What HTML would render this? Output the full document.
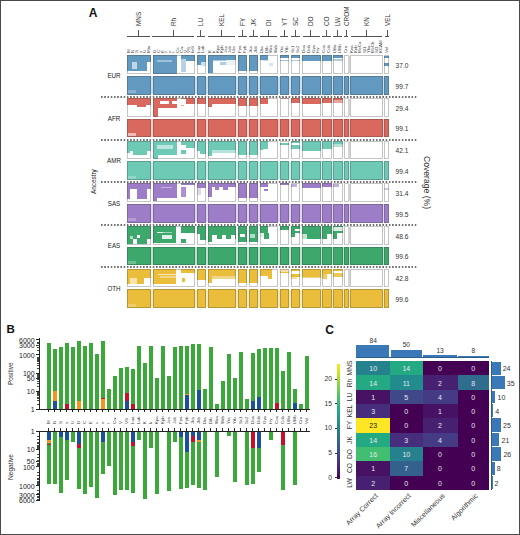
<!DOCTYPE html>
<html><head><meta charset="utf-8"><style>
*{margin:0;padding:0;box-sizing:border-box;}
html,body{width:520px;height:535px;background:#fff;overflow:hidden;}
body{position:relative;font-family:"Liberation Sans",sans-serif;}
#c{position:absolute;left:0;top:0;width:520px;height:535px;}
#c div{position:absolute;}
.t{line-height:1;white-space:nowrap;}
.bo{border:1px solid rgba(60,60,60,0.3);}
.rv{white-space:nowrap;line-height:1;transform-origin:0 0;transform:rotate(-90deg) translate(0,-50%);color:#333;}
.rr{white-space:nowrap;line-height:1;transform-origin:0 0;transform:rotate(90deg) translate(0,-50%);}
.rs{white-space:nowrap;line-height:1;font-size:4.4px;color:#3a3a3a;transform-origin:0 0;transform:rotate(-90deg) translate(0,-50%);}
.al{white-space:nowrap;line-height:1;font-size:7.5px;color:#1a1a1a;transform:translate(-50%,-50%) scaleX(0.83);}
.rvc{white-space:nowrap;line-height:1;font-size:7.4px;color:#333;transform-origin:50% 50%;transform:translate(-50%,-50%) rotate(-90deg) scaleX(0.9);}
.cv{white-space:nowrap;line-height:1;font-size:6.6px;color:#333;transform:translateY(-50%);}
.dot{height:2px;background-image:linear-gradient(to right,#727272 0,#727272 1.3px,transparent 1.3px);background-size:3.24px 2px;}
.yl{right:485.4px;white-space:nowrap;line-height:1;font-size:7px;color:#222;transform:translateY(-50%);text-align:right;}
.hv{white-space:nowrap;line-height:1;font-size:7px;transform:translate(-50%,-50%);}
.mt{white-space:nowrap;line-height:1;font-size:6.6px;color:#333;transform:translate(-50%,-50%);}
.mr{white-space:nowrap;line-height:1;font-size:7px;color:#333;transform:translateY(-50%);}
.cl{right:188px;white-space:nowrap;line-height:1;font-size:6.8px;color:#333;transform:translateY(-50%);text-align:right;}
.dl{white-space:nowrap;line-height:1;font-size:7px;color:#333;transform-origin:100% 0;transform:translate(-100%,0) rotate(-45deg);}
</style></head><body><div id="c">
<div class="t" style="left:88.7px;top:7px;font-size:12px;color:#111;font-weight:bold;">A</div>
<div style="left:126.6px;top:35.8px;width:23.7px;height:0.8px;background:#555;"></div>
<div style="left:137.9px;top:29.6px;width:0.8px;height:6.6px;background:#555;"></div>
<div class="rv" style="left:137.8px;top:25.7px;font-size:7px;transform:rotate(-90deg) translate(0,-50%) scaleX(0.91);">MNS</div>
<div style="left:152px;top:35.8px;width:42px;height:0.8px;background:#555;"></div>
<div style="left:173.1px;top:29.6px;width:0.8px;height:6.6px;background:#555;"></div>
<div class="rv" style="left:173px;top:25.7px;font-size:7px;transform:rotate(-90deg) translate(0,-50%) scaleX(0.91);">Rh</div>
<div style="left:196.5px;top:35.8px;width:8.5px;height:0.8px;background:#555;"></div>
<div style="left:200.4px;top:29.6px;width:0.8px;height:6.6px;background:#555;"></div>
<div class="rv" style="left:200.3px;top:25.7px;font-size:7px;transform:rotate(-90deg) translate(0,-50%) scaleX(0.91);">LU</div>
<div style="left:208.3px;top:35.8px;width:27.2px;height:0.8px;background:#555;"></div>
<div style="left:221.1px;top:29.6px;width:0.8px;height:6.6px;background:#555;"></div>
<div class="rv" style="left:221px;top:25.7px;font-size:7px;transform:rotate(-90deg) translate(0,-50%) scaleX(0.91);">KEL</div>
<div style="left:238px;top:35.8px;width:8.5px;height:0.8px;background:#555;"></div>
<div style="left:241.6px;top:29.6px;width:0.8px;height:6.6px;background:#555;"></div>
<div class="rv" style="left:241.5px;top:25.7px;font-size:7px;transform:rotate(-90deg) translate(0,-50%) scaleX(0.91);">FY</div>
<div style="left:249px;top:35.8px;width:8.5px;height:0.8px;background:#555;"></div>
<div style="left:252.6px;top:29.6px;width:0.8px;height:6.6px;background:#555;"></div>
<div class="rv" style="left:252.5px;top:25.7px;font-size:7px;transform:rotate(-90deg) translate(0,-50%) scaleX(0.91);">JK</div>
<div style="left:260px;top:35.8px;width:17px;height:0.8px;background:#555;"></div>
<div style="left:268.2px;top:29.6px;width:0.8px;height:6.6px;background:#555;"></div>
<div class="rv" style="left:268.1px;top:25.7px;font-size:7px;transform:rotate(-90deg) translate(0,-50%) scaleX(0.91);">DI</div>
<div style="left:280.4px;top:35.8px;width:8.1px;height:0.8px;background:#555;"></div>
<div style="left:283.8px;top:29.6px;width:0.8px;height:6.6px;background:#555;"></div>
<div class="rv" style="left:283.7px;top:25.7px;font-size:7px;transform:rotate(-90deg) translate(0,-50%) scaleX(0.91);">YT</div>
<div style="left:291.2px;top:35.8px;width:8.4px;height:0.8px;background:#555;"></div>
<div style="left:294.8px;top:29.6px;width:0.8px;height:6.6px;background:#555;"></div>
<div class="rv" style="left:294.7px;top:25.7px;font-size:7px;transform:rotate(-90deg) translate(0,-50%) scaleX(0.91);">SC</div>
<div style="left:302.6px;top:35.8px;width:17px;height:0.8px;background:#555;"></div>
<div style="left:310.4px;top:29.6px;width:0.8px;height:6.6px;background:#555;"></div>
<div class="rv" style="left:310.3px;top:25.7px;font-size:7px;transform:rotate(-90deg) translate(0,-50%) scaleX(0.91);">DO</div>
<div style="left:322.4px;top:35.8px;width:8.4px;height:0.8px;background:#555;"></div>
<div style="left:326.4px;top:29.6px;width:0.8px;height:6.6px;background:#555;"></div>
<div class="rv" style="left:326.3px;top:25.7px;font-size:7px;transform:rotate(-90deg) translate(0,-50%) scaleX(0.91);">CO</div>
<div style="left:333.4px;top:35.8px;width:8.4px;height:0.8px;background:#555;"></div>
<div style="left:337.2px;top:29.6px;width:0.8px;height:6.6px;background:#555;"></div>
<div class="rv" style="left:337.1px;top:25.7px;font-size:7px;transform:rotate(-90deg) translate(0,-50%) scaleX(0.91);">LW</div>
<div style="left:344.4px;top:35.8px;width:4px;height:0.8px;background:#555;"></div>
<div style="left:346.1px;top:29.6px;width:0.8px;height:6.6px;background:#555;"></div>
<div class="rv" style="left:346px;top:25.7px;font-size:7px;transform:rotate(-90deg) translate(0,-50%) scaleX(0.91);">CROM</div>
<div style="left:350.6px;top:35.8px;width:31.8px;height:0.8px;background:#555;"></div>
<div style="left:366.2px;top:29.6px;width:0.8px;height:6.6px;background:#555;"></div>
<div class="rv" style="left:366.1px;top:25.7px;font-size:7px;transform:rotate(-90deg) translate(0,-50%) scaleX(0.91);">KN</div>
<div style="left:384.6px;top:35.8px;width:4.4px;height:0.8px;background:#555;"></div>
<div style="left:386.6px;top:29.6px;width:0.8px;height:6.6px;background:#555;"></div>
<div class="rv" style="left:386.5px;top:25.7px;font-size:7px;transform:rotate(-90deg) translate(0,-50%) scaleX(0.91);">VEL</div>
<div class="rs" style="left:129.26px;top:53px;">M</div>
<div class="rs" style="left:133.18px;top:53px;">N</div>
<div class="rs" style="left:137.09px;top:53px;">S</div>
<div class="rs" style="left:141.01px;top:53px;">s</div>
<div class="rs" style="left:144.93px;top:53px;">U</div>
<div class="rs" style="left:148.84px;top:53px;">Mia</div>
<div class="rs" style="left:154.92px;top:53px;">D</div>
<div class="rs" style="left:158.75px;top:53px;">C</div>
<div class="rs" style="left:162.59px;top:53px;">E</div>
<div class="rs" style="left:166.43px;top:53px;">c</div>
<div class="rs" style="left:170.26px;top:53px;">e</div>
<div class="rs" style="left:174.1px;top:53px;">f</div>
<div class="rs" style="left:177.94px;top:53px;">Ce</div>
<div class="rs" style="left:181.77px;top:53px;">Cw</div>
<div class="rs" style="left:185.61px;top:53px;">V</div>
<div class="rs" style="left:189.45px;top:53px;">VS</div>
<div class="rs" style="left:193.28px;top:53px;">hrS</div>
<div class="rs" style="left:199.15px;top:53px;">Lua</div>
<div class="rs" style="left:203.45px;top:53px;">Lub</div>
<div class="rs" style="left:210.02px;top:53px;">K</div>
<div class="rs" style="left:214.06px;top:53px;">k</div>
<div class="rs" style="left:218.11px;top:53px;">Kpa</div>
<div class="rs" style="left:222.15px;top:53px;">Kpb</div>
<div class="rs" style="left:226.19px;top:53px;">Jsa</div>
<div class="rs" style="left:230.24px;top:53px;">Jsb</div>
<div class="rs" style="left:234.28px;top:53px;">Ula</div>
<div class="rs" style="left:240.32px;top:53px;">Fya</div>
<div class="rs" style="left:244.98px;top:53px;">Fyb</div>
<div class="rs" style="left:251.32px;top:53px;">Jka</div>
<div class="rs" style="left:255.98px;top:53px;">Jkb</div>
<div class="rs" style="left:261.94px;top:53px;">Dia</div>
<div class="rs" style="left:266.61px;top:53px;">Dib</div>
<div class="rs" style="left:271.29px;top:53px;">Wra</div>
<div class="rs" style="left:275.96px;top:53px;">Wrb</div>
<div class="rs" style="left:282.32px;top:53px;">Yta</div>
<div class="rs" style="left:286.98px;top:53px;">Ytb</div>
<div class="rs" style="left:293.35px;top:53px;">Sc1</div>
<div class="rs" style="left:298.05px;top:53px;">Sc2</div>
<div class="rs" style="left:304.32px;top:53px;">Doa</div>
<div class="rs" style="left:308.98px;top:53px;">Dob</div>
<div class="rs" style="left:313.62px;top:53px;">Gya</div>
<div class="rs" style="left:318.28px;top:53px;">Hy</div>
<div class="rs" style="left:324.38px;top:53px;">Coa</div>
<div class="rs" style="left:329.12px;top:53px;">Cob</div>
<div class="rs" style="left:335.4px;top:53px;">LWa</div>
<div class="rs" style="left:340.2px;top:53px;">LWb</div>
<div class="rs" style="left:346.4px;top:53px;">Cra</div>
<div class="rs" style="left:352.42px;top:53px;">Kna</div>
<div class="rs" style="left:356.46px;top:53px;">Knb</div>
<div class="rs" style="left:360.49px;top:53px;">McCa</div>
<div class="rs" style="left:364.53px;top:53px;">Sl1</div>
<div class="rs" style="left:368.57px;top:53px;">Yka</div>
<div class="rs" style="left:372.61px;top:53px;">McCb</div>
<div class="rs" style="left:376.64px;top:53px;">Sl3</div>
<div class="rs" style="left:380.68px;top:53px;">KCAM</div>
<div class="rs" style="left:386.8px;top:53px;">Vel</div>
<div style="left:127.3px;top:55.3px;width:23.5px;height:18.7px;background:#fff;"></div>
<div style="left:153px;top:55.3px;width:42.2px;height:18.7px;background:#fff;"></div>
<div style="left:197px;top:55.3px;width:8.6px;height:18.7px;background:#fff;"></div>
<div style="left:208px;top:55.3px;width:28.3px;height:18.7px;background:#fff;"></div>
<div style="left:238px;top:55.3px;width:9.3px;height:18.7px;background:#fff;"></div>
<div style="left:249px;top:55.3px;width:9.3px;height:18.7px;background:#fff;"></div>
<div style="left:259.6px;top:55.3px;width:18.7px;height:18.7px;background:#fff;"></div>
<div style="left:280px;top:55.3px;width:9.3px;height:18.7px;background:#fff;"></div>
<div style="left:291px;top:55.3px;width:9.4px;height:18.7px;background:#fff;"></div>
<div style="left:302px;top:55.3px;width:18.6px;height:18.7px;background:#fff;"></div>
<div style="left:322px;top:55.3px;width:9.5px;height:18.7px;background:#fff;"></div>
<div style="left:333px;top:55.3px;width:9.6px;height:18.7px;background:#fff;"></div>
<div style="left:344.2px;top:55.3px;width:4.4px;height:18.7px;background:#fff;"></div>
<div style="left:350.4px;top:55.3px;width:32.3px;height:18.7px;background:#fff;"></div>
<div style="left:384.4px;top:55.3px;width:4.8px;height:18.7px;background:#fff;"></div>
<div style="left:127.3px;top:55.3px;width:19.3px;height:15.7px;background:#6299c0;"></div>
<div style="left:146.6px;top:55.3px;width:4.2px;height:6.5px;background:#6299c0;"></div>
<div style="left:132px;top:61.8px;width:5px;height:7.5px;background:#fff;opacity:0.6;"></div>
<div style="left:153px;top:55.3px;width:23.5px;height:18.7px;background:#6299c0;"></div>
<div style="left:157px;top:60.3px;width:15px;height:1.3px;background:#fff;opacity:0.4;"></div>
<div style="left:181px;top:55.3px;width:5px;height:4px;background:#6299c0;"></div>
<div style="left:181px;top:59.3px;width:5px;height:13px;background:#6299c0;opacity:0.45;"></div>
<div style="left:186px;top:55.3px;width:9.2px;height:5.5px;background:#6299c0;"></div>
<div style="left:197px;top:55.3px;width:8.6px;height:6.8px;background:#6299c0;"></div>
<div style="left:197px;top:62.1px;width:3.5px;height:2.5px;background:#6299c0;"></div>
<div style="left:200.5px;top:62.1px;width:5.1px;height:3.7px;background:#6299c0;opacity:0.3;"></div>
<div style="left:208px;top:55.3px;width:28.3px;height:4.5px;background:#6299c0;"></div>
<div style="left:208px;top:59.8px;width:4.6px;height:13.4px;background:#6299c0;"></div>
<div style="left:212.6px;top:59.8px;width:13.4px;height:1.7px;background:#6299c0;opacity:0.55;"></div>
<div style="left:220px;top:61.5px;width:6px;height:3.3px;background:#6299c0;opacity:0.5;"></div>
<div style="left:226px;top:59.8px;width:10.3px;height:5.5px;background:#6299c0;opacity:0.12;"></div>
<div style="left:238px;top:55.3px;width:9.3px;height:15.7px;background:#6299c0;"></div>
<div style="left:249px;top:55.3px;width:9.3px;height:15.7px;background:#6299c0;"></div>
<div style="left:259.6px;top:55.3px;width:8.9px;height:4.4px;background:#6299c0;"></div>
<div style="left:268.5px;top:62.8px;width:4px;height:3.2px;background:#6299c0;opacity:0.25;"></div>
<div style="left:262px;top:59.7px;width:6.5px;height:1.6px;background:#6299c0;opacity:0.3;"></div>
<div style="left:280px;top:55.3px;width:9.3px;height:3px;background:#6299c0;"></div>
<div style="left:280px;top:59.8px;width:9.3px;height:1px;background:#6299c0;opacity:0.6;"></div>
<div style="left:291px;top:55.3px;width:9.4px;height:3px;background:#6299c0;"></div>
<div style="left:291px;top:59.8px;width:9.4px;height:1.5px;background:#6299c0;opacity:0.5;"></div>
<div style="left:302px;top:55.3px;width:18.6px;height:5.5px;background:#6299c0;"></div>
<div style="left:322px;top:55.3px;width:9.5px;height:6px;background:#6299c0;"></div>
<div style="left:333px;top:55.3px;width:9.6px;height:3px;background:#6299c0;"></div>
<div style="left:333px;top:58.8px;width:9.6px;height:2.5px;background:#6299c0;opacity:0.5;"></div>
<div style="left:384.4px;top:56.1px;width:4.8px;height:2px;background:#6299c0;"></div>
<div style="left:384.4px;top:63.3px;width:4.8px;height:2.5px;background:#6299c0;"></div>
<div class="bo" style="left:127.3px;top:55.3px;width:23.5px;height:18.7px;"></div>
<div class="bo" style="left:153px;top:55.3px;width:42.2px;height:18.7px;"></div>
<div class="bo" style="left:197px;top:55.3px;width:8.6px;height:18.7px;"></div>
<div class="bo" style="left:208px;top:55.3px;width:28.3px;height:18.7px;"></div>
<div class="bo" style="left:238px;top:55.3px;width:9.3px;height:18.7px;"></div>
<div class="bo" style="left:249px;top:55.3px;width:9.3px;height:18.7px;"></div>
<div class="bo" style="left:259.6px;top:55.3px;width:18.7px;height:18.7px;"></div>
<div class="bo" style="left:280px;top:55.3px;width:9.3px;height:18.7px;"></div>
<div class="bo" style="left:291px;top:55.3px;width:9.4px;height:18.7px;"></div>
<div class="bo" style="left:302px;top:55.3px;width:18.6px;height:18.7px;"></div>
<div class="bo" style="left:322px;top:55.3px;width:9.5px;height:18.7px;"></div>
<div class="bo" style="left:333px;top:55.3px;width:9.6px;height:18.7px;"></div>
<div class="bo" style="left:344.2px;top:55.3px;width:4.4px;height:18.7px;"></div>
<div class="bo" style="left:350.4px;top:55.3px;width:32.3px;height:18.7px;"></div>
<div class="bo" style="left:384.4px;top:55.3px;width:4.8px;height:18.7px;"></div>
<div style="left:348.4px;top:55.9px;width:1.9px;height:17.5px;background:#d4d4d4;"></div>
<div style="left:127.3px;top:76.5px;width:261.9px;height:17.6px;background:#6299c0;opacity:0.33;"></div>
<div style="left:127.3px;top:76px;width:23.5px;height:18.6px;background:#6299c0;"></div>
<div class="bo" style="left:127.3px;top:76px;width:23.5px;height:18.6px;"></div>
<div style="left:153px;top:76px;width:42.2px;height:18.6px;background:#6299c0;"></div>
<div class="bo" style="left:153px;top:76px;width:42.2px;height:18.6px;"></div>
<div style="left:197px;top:76px;width:8.6px;height:18.6px;background:#6299c0;"></div>
<div class="bo" style="left:197px;top:76px;width:8.6px;height:18.6px;"></div>
<div style="left:208px;top:76px;width:28.3px;height:18.6px;background:#6299c0;"></div>
<div class="bo" style="left:208px;top:76px;width:28.3px;height:18.6px;"></div>
<div style="left:238px;top:76px;width:9.3px;height:18.6px;background:#6299c0;"></div>
<div class="bo" style="left:238px;top:76px;width:9.3px;height:18.6px;"></div>
<div style="left:249px;top:76px;width:9.3px;height:18.6px;background:#6299c0;"></div>
<div class="bo" style="left:249px;top:76px;width:9.3px;height:18.6px;"></div>
<div style="left:259.6px;top:76px;width:18.7px;height:18.6px;background:#6299c0;"></div>
<div class="bo" style="left:259.6px;top:76px;width:18.7px;height:18.6px;"></div>
<div style="left:280px;top:76px;width:9.3px;height:18.6px;background:#6299c0;"></div>
<div class="bo" style="left:280px;top:76px;width:9.3px;height:18.6px;"></div>
<div style="left:291px;top:76px;width:9.4px;height:18.6px;background:#6299c0;"></div>
<div class="bo" style="left:291px;top:76px;width:9.4px;height:18.6px;"></div>
<div style="left:302px;top:76px;width:18.6px;height:18.6px;background:#6299c0;"></div>
<div class="bo" style="left:302px;top:76px;width:18.6px;height:18.6px;"></div>
<div style="left:322px;top:76px;width:9.5px;height:18.6px;background:#6299c0;"></div>
<div class="bo" style="left:322px;top:76px;width:9.5px;height:18.6px;"></div>
<div style="left:333px;top:76px;width:9.6px;height:18.6px;background:#6299c0;"></div>
<div class="bo" style="left:333px;top:76px;width:9.6px;height:18.6px;"></div>
<div style="left:344.2px;top:76px;width:4.4px;height:18.6px;background:#6299c0;"></div>
<div class="bo" style="left:344.2px;top:76px;width:4.4px;height:18.6px;"></div>
<div style="left:350.4px;top:76px;width:32.3px;height:18.6px;background:#6299c0;"></div>
<div class="bo" style="left:350.4px;top:76px;width:32.3px;height:18.6px;"></div>
<div style="left:384.4px;top:76px;width:4.8px;height:18.6px;background:#6299c0;"></div>
<div class="bo" style="left:384.4px;top:76px;width:4.8px;height:18.6px;"></div>
<div style="left:128.3px;top:90.4px;width:7.5px;height:3px;background:#fff;opacity:0.25;"></div>
<div class="al" style="left:114.4px;top:75.85px;">EUR</div>
<div class="cv" style="left:395.6px;top:66.15px;">37.0</div>
<div class="cv" style="left:395.6px;top:86.8px;">99.7</div>
<div class="dot" style="left:101.3px;top:96px;width:317px;"></div>
<div style="left:127.3px;top:97.95px;width:23.5px;height:18.7px;background:#fff;"></div>
<div style="left:153px;top:97.95px;width:42.2px;height:18.7px;background:#fff;"></div>
<div style="left:197px;top:97.95px;width:8.6px;height:18.7px;background:#fff;"></div>
<div style="left:208px;top:97.95px;width:28.3px;height:18.7px;background:#fff;"></div>
<div style="left:238px;top:97.95px;width:9.3px;height:18.7px;background:#fff;"></div>
<div style="left:249px;top:97.95px;width:9.3px;height:18.7px;background:#fff;"></div>
<div style="left:259.6px;top:97.95px;width:18.7px;height:18.7px;background:#fff;"></div>
<div style="left:280px;top:97.95px;width:9.3px;height:18.7px;background:#fff;"></div>
<div style="left:291px;top:97.95px;width:9.4px;height:18.7px;background:#fff;"></div>
<div style="left:302px;top:97.95px;width:18.6px;height:18.7px;background:#fff;"></div>
<div style="left:322px;top:97.95px;width:9.5px;height:18.7px;background:#fff;"></div>
<div style="left:333px;top:97.95px;width:9.6px;height:18.7px;background:#fff;"></div>
<div style="left:344.2px;top:97.95px;width:4.4px;height:18.7px;background:#fff;"></div>
<div style="left:350.4px;top:97.95px;width:32.3px;height:18.7px;background:#fff;"></div>
<div style="left:384.4px;top:97.95px;width:4.8px;height:18.7px;background:#fff;"></div>
<div style="left:127.3px;top:97.95px;width:23.5px;height:6.6px;background:#d9695f;"></div>
<div style="left:136.5px;top:104.55px;width:9.5px;height:2px;background:#d9695f;"></div>
<div style="left:153px;top:97.95px;width:4.5px;height:18.7px;background:#d9695f;"></div>
<div style="left:153px;top:97.95px;width:23.5px;height:3.3px;background:#d9695f;"></div>
<div style="left:157.5px;top:101.25px;width:2.9px;height:2.7px;background:#d9695f;"></div>
<div style="left:168.8px;top:101.25px;width:3.1px;height:2.7px;background:#d9695f;"></div>
<div style="left:157.5px;top:103.75px;width:19px;height:4px;background:#d9695f;"></div>
<div style="left:181px;top:97.95px;width:5px;height:1.5px;background:#d9695f;"></div>
<div style="left:186px;top:97.95px;width:9.2px;height:6px;background:#d9695f;"></div>
<div style="left:181px;top:104.75px;width:3px;height:1.5px;background:#d9695f;opacity:0.6;"></div>
<div style="left:197px;top:97.95px;width:8.6px;height:6px;background:#d9695f;"></div>
<div style="left:208px;top:97.95px;width:28.3px;height:6.5px;background:#d9695f;"></div>
<div style="left:208px;top:104.45px;width:4px;height:2.5px;background:#d9695f;"></div>
<div style="left:238px;top:97.95px;width:9.3px;height:8px;background:#d9695f;"></div>
<div style="left:249px;top:97.95px;width:9.3px;height:8px;background:#d9695f;"></div>
<div style="left:259.6px;top:97.95px;width:8.4px;height:6px;background:#d9695f;"></div>
<div style="left:280px;top:97.95px;width:9.3px;height:1.2px;background:#d9695f;opacity:0.6;"></div>
<div style="left:291px;top:97.95px;width:9.4px;height:5px;background:#d9695f;"></div>
<div style="left:302px;top:97.95px;width:18.6px;height:6px;background:#d9695f;"></div>
<div style="left:322px;top:97.95px;width:9.5px;height:5px;background:#d9695f;"></div>
<div style="left:333px;top:97.95px;width:9.6px;height:2.5px;background:#d9695f;"></div>
<div style="left:333px;top:100.45px;width:9.6px;height:2.5px;background:#d9695f;opacity:0.6;"></div>
<div class="bo" style="left:127.3px;top:97.95px;width:23.5px;height:18.7px;"></div>
<div class="bo" style="left:153px;top:97.95px;width:42.2px;height:18.7px;"></div>
<div class="bo" style="left:197px;top:97.95px;width:8.6px;height:18.7px;"></div>
<div class="bo" style="left:208px;top:97.95px;width:28.3px;height:18.7px;"></div>
<div class="bo" style="left:238px;top:97.95px;width:9.3px;height:18.7px;"></div>
<div class="bo" style="left:249px;top:97.95px;width:9.3px;height:18.7px;"></div>
<div class="bo" style="left:259.6px;top:97.95px;width:18.7px;height:18.7px;"></div>
<div class="bo" style="left:280px;top:97.95px;width:9.3px;height:18.7px;"></div>
<div class="bo" style="left:291px;top:97.95px;width:9.4px;height:18.7px;"></div>
<div class="bo" style="left:302px;top:97.95px;width:18.6px;height:18.7px;"></div>
<div class="bo" style="left:322px;top:97.95px;width:9.5px;height:18.7px;"></div>
<div class="bo" style="left:333px;top:97.95px;width:9.6px;height:18.7px;"></div>
<div class="bo" style="left:344.2px;top:97.95px;width:4.4px;height:18.7px;"></div>
<div class="bo" style="left:350.4px;top:97.95px;width:32.3px;height:18.7px;"></div>
<div class="bo" style="left:384.4px;top:97.95px;width:4.8px;height:18.7px;"></div>
<div style="left:348.4px;top:98.55px;width:1.9px;height:17.5px;background:#d4d4d4;"></div>
<div style="left:127.3px;top:119.15px;width:261.9px;height:17.6px;background:#d9695f;opacity:0.33;"></div>
<div style="left:127.3px;top:118.65px;width:23.5px;height:18.6px;background:#d9695f;"></div>
<div class="bo" style="left:127.3px;top:118.65px;width:23.5px;height:18.6px;"></div>
<div style="left:153px;top:118.65px;width:42.2px;height:18.6px;background:#d9695f;"></div>
<div class="bo" style="left:153px;top:118.65px;width:42.2px;height:18.6px;"></div>
<div style="left:197px;top:118.65px;width:8.6px;height:18.6px;background:#d9695f;"></div>
<div class="bo" style="left:197px;top:118.65px;width:8.6px;height:18.6px;"></div>
<div style="left:208px;top:118.65px;width:28.3px;height:18.6px;background:#d9695f;"></div>
<div class="bo" style="left:208px;top:118.65px;width:28.3px;height:18.6px;"></div>
<div style="left:238px;top:118.65px;width:9.3px;height:18.6px;background:#d9695f;"></div>
<div class="bo" style="left:238px;top:118.65px;width:9.3px;height:18.6px;"></div>
<div style="left:249px;top:118.65px;width:9.3px;height:18.6px;background:#d9695f;"></div>
<div class="bo" style="left:249px;top:118.65px;width:9.3px;height:18.6px;"></div>
<div style="left:259.6px;top:118.65px;width:18.7px;height:18.6px;background:#d9695f;"></div>
<div class="bo" style="left:259.6px;top:118.65px;width:18.7px;height:18.6px;"></div>
<div style="left:280px;top:118.65px;width:9.3px;height:18.6px;background:#d9695f;"></div>
<div class="bo" style="left:280px;top:118.65px;width:9.3px;height:18.6px;"></div>
<div style="left:291px;top:118.65px;width:9.4px;height:18.6px;background:#d9695f;"></div>
<div class="bo" style="left:291px;top:118.65px;width:9.4px;height:18.6px;"></div>
<div style="left:302px;top:118.65px;width:18.6px;height:18.6px;background:#d9695f;"></div>
<div class="bo" style="left:302px;top:118.65px;width:18.6px;height:18.6px;"></div>
<div style="left:322px;top:118.65px;width:9.5px;height:18.6px;background:#d9695f;"></div>
<div class="bo" style="left:322px;top:118.65px;width:9.5px;height:18.6px;"></div>
<div style="left:333px;top:118.65px;width:9.6px;height:18.6px;background:#d9695f;"></div>
<div class="bo" style="left:333px;top:118.65px;width:9.6px;height:18.6px;"></div>
<div style="left:344.2px;top:118.65px;width:4.4px;height:18.6px;background:#d9695f;"></div>
<div class="bo" style="left:344.2px;top:118.65px;width:4.4px;height:18.6px;"></div>
<div style="left:350.4px;top:118.65px;width:32.3px;height:18.6px;background:#d9695f;"></div>
<div class="bo" style="left:350.4px;top:118.65px;width:32.3px;height:18.6px;"></div>
<div style="left:384.4px;top:118.65px;width:4.8px;height:18.6px;background:#d9695f;"></div>
<div class="bo" style="left:384.4px;top:118.65px;width:4.8px;height:18.6px;"></div>
<div style="left:128.3px;top:133.05px;width:7.5px;height:3px;background:#fff;opacity:0.55;"></div>
<div class="al" style="left:114.4px;top:118.5px;">AFR</div>
<div class="cv" style="left:395.6px;top:108.8px;">29.4</div>
<div class="cv" style="left:395.6px;top:129.45px;">99.1</div>
<div class="dot" style="left:101.3px;top:139px;width:317px;"></div>
<div style="left:127.3px;top:140.6px;width:23.5px;height:18.7px;background:#fff;"></div>
<div style="left:153px;top:140.6px;width:42.2px;height:18.7px;background:#fff;"></div>
<div style="left:197px;top:140.6px;width:8.6px;height:18.7px;background:#fff;"></div>
<div style="left:208px;top:140.6px;width:28.3px;height:18.7px;background:#fff;"></div>
<div style="left:238px;top:140.6px;width:9.3px;height:18.7px;background:#fff;"></div>
<div style="left:249px;top:140.6px;width:9.3px;height:18.7px;background:#fff;"></div>
<div style="left:259.6px;top:140.6px;width:18.7px;height:18.7px;background:#fff;"></div>
<div style="left:280px;top:140.6px;width:9.3px;height:18.7px;background:#fff;"></div>
<div style="left:291px;top:140.6px;width:9.4px;height:18.7px;background:#fff;"></div>
<div style="left:302px;top:140.6px;width:18.6px;height:18.7px;background:#fff;"></div>
<div style="left:322px;top:140.6px;width:9.5px;height:18.7px;background:#fff;"></div>
<div style="left:333px;top:140.6px;width:9.6px;height:18.7px;background:#fff;"></div>
<div style="left:344.2px;top:140.6px;width:4.4px;height:18.7px;background:#fff;"></div>
<div style="left:350.4px;top:140.6px;width:32.3px;height:18.7px;background:#fff;"></div>
<div style="left:384.4px;top:140.6px;width:4.8px;height:18.7px;background:#fff;"></div>
<div style="left:127.3px;top:140.6px;width:23.5px;height:10px;background:#6ec9b5;"></div>
<div style="left:133px;top:150.6px;width:14px;height:4px;background:#6ec9b5;"></div>
<div style="left:127.3px;top:150.6px;width:2.7px;height:2px;background:#6ec9b5;"></div>
<div style="left:153px;top:140.6px;width:23.5px;height:14.5px;background:#6ec9b5;"></div>
<div style="left:157.3px;top:145.1px;width:15.9px;height:4px;background:#fff;opacity:0.55;"></div>
<div style="left:153px;top:155.1px;width:4.5px;height:3.5px;background:#6ec9b5;"></div>
<div style="left:181px;top:140.6px;width:5px;height:4px;background:#6ec9b5;"></div>
<div style="left:186px;top:140.6px;width:9.2px;height:7.5px;background:#6ec9b5;"></div>
<div style="left:181px;top:150px;width:5px;height:4px;background:#6ec9b5;"></div>
<div style="left:197px;top:140.6px;width:8.6px;height:10.5px;background:#6ec9b5;"></div>
<div style="left:200px;top:151.1px;width:5.6px;height:2.5px;background:#6ec9b5;"></div>
<div style="left:208px;top:140.6px;width:28.3px;height:9px;background:#6ec9b5;"></div>
<div style="left:208px;top:149.6px;width:4px;height:6px;background:#6ec9b5;"></div>
<div style="left:212px;top:149.6px;width:24.3px;height:3px;background:#6ec9b5;opacity:0.5;"></div>
<div style="left:238px;top:140.6px;width:9.3px;height:14px;background:#6ec9b5;"></div>
<div style="left:249px;top:140.6px;width:9.3px;height:14px;background:#6ec9b5;"></div>
<div style="left:259.6px;top:140.6px;width:8.9px;height:8.5px;background:#6ec9b5;"></div>
<div style="left:259.6px;top:149.1px;width:3.4px;height:1.3px;background:#6ec9b5;"></div>
<div style="left:280px;top:142.6px;width:9.3px;height:2px;background:#6ec9b5;"></div>
<div style="left:291px;top:141.1px;width:9.4px;height:2.3px;background:#6ec9b5;"></div>
<div style="left:291px;top:144.5px;width:9.4px;height:4.1px;background:#6ec9b5;"></div>
<div style="left:302px;top:140.6px;width:18.6px;height:10px;background:#6ec9b5;"></div>
<div style="left:322px;top:140.6px;width:9.5px;height:8px;background:#6ec9b5;"></div>
<div style="left:333px;top:140.6px;width:9.6px;height:3px;background:#6ec9b5;"></div>
<div style="left:333px;top:143.6px;width:9.6px;height:3px;background:#6ec9b5;opacity:0.5;"></div>
<div class="bo" style="left:127.3px;top:140.6px;width:23.5px;height:18.7px;"></div>
<div class="bo" style="left:153px;top:140.6px;width:42.2px;height:18.7px;"></div>
<div class="bo" style="left:197px;top:140.6px;width:8.6px;height:18.7px;"></div>
<div class="bo" style="left:208px;top:140.6px;width:28.3px;height:18.7px;"></div>
<div class="bo" style="left:238px;top:140.6px;width:9.3px;height:18.7px;"></div>
<div class="bo" style="left:249px;top:140.6px;width:9.3px;height:18.7px;"></div>
<div class="bo" style="left:259.6px;top:140.6px;width:18.7px;height:18.7px;"></div>
<div class="bo" style="left:280px;top:140.6px;width:9.3px;height:18.7px;"></div>
<div class="bo" style="left:291px;top:140.6px;width:9.4px;height:18.7px;"></div>
<div class="bo" style="left:302px;top:140.6px;width:18.6px;height:18.7px;"></div>
<div class="bo" style="left:322px;top:140.6px;width:9.5px;height:18.7px;"></div>
<div class="bo" style="left:333px;top:140.6px;width:9.6px;height:18.7px;"></div>
<div class="bo" style="left:344.2px;top:140.6px;width:4.4px;height:18.7px;"></div>
<div class="bo" style="left:350.4px;top:140.6px;width:32.3px;height:18.7px;"></div>
<div class="bo" style="left:384.4px;top:140.6px;width:4.8px;height:18.7px;"></div>
<div style="left:348.4px;top:141.2px;width:1.9px;height:17.5px;background:#d4d4d4;"></div>
<div style="left:127.3px;top:161.8px;width:261.9px;height:17.6px;background:#6ec9b5;opacity:0.33;"></div>
<div style="left:127.3px;top:161.3px;width:23.5px;height:18.6px;background:#6ec9b5;"></div>
<div class="bo" style="left:127.3px;top:161.3px;width:23.5px;height:18.6px;"></div>
<div style="left:153px;top:161.3px;width:42.2px;height:18.6px;background:#6ec9b5;"></div>
<div class="bo" style="left:153px;top:161.3px;width:42.2px;height:18.6px;"></div>
<div style="left:197px;top:161.3px;width:8.6px;height:18.6px;background:#6ec9b5;"></div>
<div class="bo" style="left:197px;top:161.3px;width:8.6px;height:18.6px;"></div>
<div style="left:208px;top:161.3px;width:28.3px;height:18.6px;background:#6ec9b5;"></div>
<div class="bo" style="left:208px;top:161.3px;width:28.3px;height:18.6px;"></div>
<div style="left:238px;top:161.3px;width:9.3px;height:18.6px;background:#6ec9b5;"></div>
<div class="bo" style="left:238px;top:161.3px;width:9.3px;height:18.6px;"></div>
<div style="left:249px;top:161.3px;width:9.3px;height:18.6px;background:#6ec9b5;"></div>
<div class="bo" style="left:249px;top:161.3px;width:9.3px;height:18.6px;"></div>
<div style="left:259.6px;top:161.3px;width:18.7px;height:18.6px;background:#6ec9b5;"></div>
<div class="bo" style="left:259.6px;top:161.3px;width:18.7px;height:18.6px;"></div>
<div style="left:280px;top:161.3px;width:9.3px;height:18.6px;background:#6ec9b5;"></div>
<div class="bo" style="left:280px;top:161.3px;width:9.3px;height:18.6px;"></div>
<div style="left:291px;top:161.3px;width:9.4px;height:18.6px;background:#6ec9b5;"></div>
<div class="bo" style="left:291px;top:161.3px;width:9.4px;height:18.6px;"></div>
<div style="left:302px;top:161.3px;width:18.6px;height:18.6px;background:#6ec9b5;"></div>
<div class="bo" style="left:302px;top:161.3px;width:18.6px;height:18.6px;"></div>
<div style="left:322px;top:161.3px;width:9.5px;height:18.6px;background:#6ec9b5;"></div>
<div class="bo" style="left:322px;top:161.3px;width:9.5px;height:18.6px;"></div>
<div style="left:333px;top:161.3px;width:9.6px;height:18.6px;background:#6ec9b5;"></div>
<div class="bo" style="left:333px;top:161.3px;width:9.6px;height:18.6px;"></div>
<div style="left:344.2px;top:161.3px;width:4.4px;height:18.6px;background:#6ec9b5;"></div>
<div class="bo" style="left:344.2px;top:161.3px;width:4.4px;height:18.6px;"></div>
<div style="left:350.4px;top:161.3px;width:32.3px;height:18.6px;background:#6ec9b5;"></div>
<div class="bo" style="left:350.4px;top:161.3px;width:32.3px;height:18.6px;"></div>
<div style="left:384.4px;top:161.3px;width:4.8px;height:18.6px;background:#6ec9b5;"></div>
<div class="bo" style="left:384.4px;top:161.3px;width:4.8px;height:18.6px;"></div>
<div style="left:128.3px;top:175.7px;width:7.5px;height:3px;background:#fff;opacity:0.25;"></div>
<div class="al" style="left:114.4px;top:161.15px;">AMR</div>
<div class="cv" style="left:395.6px;top:151.45px;">42.1</div>
<div class="cv" style="left:395.6px;top:172.1px;">99.4</div>
<div class="dot" style="left:101.3px;top:181px;width:317px;"></div>
<div style="left:127.3px;top:183.25px;width:23.5px;height:18.7px;background:#fff;"></div>
<div style="left:153px;top:183.25px;width:42.2px;height:18.7px;background:#fff;"></div>
<div style="left:197px;top:183.25px;width:8.6px;height:18.7px;background:#fff;"></div>
<div style="left:208px;top:183.25px;width:28.3px;height:18.7px;background:#fff;"></div>
<div style="left:238px;top:183.25px;width:9.3px;height:18.7px;background:#fff;"></div>
<div style="left:249px;top:183.25px;width:9.3px;height:18.7px;background:#fff;"></div>
<div style="left:259.6px;top:183.25px;width:18.7px;height:18.7px;background:#fff;"></div>
<div style="left:280px;top:183.25px;width:9.3px;height:18.7px;background:#fff;"></div>
<div style="left:291px;top:183.25px;width:9.4px;height:18.7px;background:#fff;"></div>
<div style="left:302px;top:183.25px;width:18.6px;height:18.7px;background:#fff;"></div>
<div style="left:322px;top:183.25px;width:9.5px;height:18.7px;background:#fff;"></div>
<div style="left:333px;top:183.25px;width:9.6px;height:18.7px;background:#fff;"></div>
<div style="left:344.2px;top:183.25px;width:4.4px;height:18.7px;background:#fff;"></div>
<div style="left:350.4px;top:183.25px;width:32.3px;height:18.7px;background:#fff;"></div>
<div style="left:384.4px;top:183.25px;width:4.8px;height:18.7px;background:#fff;"></div>
<div style="left:127.3px;top:183.25px;width:23.5px;height:6px;background:#9e7dc8;"></div>
<div style="left:127.3px;top:189.25px;width:2.7px;height:10px;background:#9e7dc8;"></div>
<div style="left:137px;top:189.25px;width:10px;height:10px;background:#9e7dc8;"></div>
<div style="left:153px;top:183.25px;width:23.5px;height:15px;background:#9e7dc8;"></div>
<div style="left:153px;top:198.25px;width:4px;height:2.5px;background:#9e7dc8;"></div>
<div style="left:161px;top:186.55px;width:11px;height:1.2px;background:#fff;opacity:0.4;"></div>
<div style="left:181px;top:183.25px;width:14.2px;height:2px;background:#9e7dc8;"></div>
<div style="left:181px;top:187.25px;width:5px;height:9.5px;background:#9e7dc8;opacity:0.85;"></div>
<div style="left:197px;top:183.25px;width:8.6px;height:5px;background:#9e7dc8;"></div>
<div style="left:197px;top:188.25px;width:4px;height:7px;background:#9e7dc8;opacity:0.3;"></div>
<div style="left:208px;top:183.25px;width:28.3px;height:4px;background:#9e7dc8;"></div>
<div style="left:208px;top:187.25px;width:4px;height:10px;background:#9e7dc8;"></div>
<div style="left:215px;top:187.25px;width:4px;height:3px;background:#9e7dc8;"></div>
<div style="left:223px;top:187.25px;width:5px;height:3px;background:#9e7dc8;"></div>
<div style="left:238px;top:183.25px;width:9.3px;height:15px;background:#9e7dc8;"></div>
<div style="left:249px;top:183.25px;width:9.3px;height:15px;background:#9e7dc8;"></div>
<div style="left:259.6px;top:183.25px;width:8.4px;height:4px;background:#9e7dc8;"></div>
<div style="left:264px;top:189.25px;width:4px;height:2px;background:#9e7dc8;"></div>
<div style="left:280px;top:183.25px;width:9.3px;height:2px;background:#9e7dc8;"></div>
<div style="left:291px;top:184.25px;width:6px;height:3px;background:#9e7dc8;opacity:0.6;"></div>
<div style="left:302px;top:183.25px;width:18.6px;height:5px;background:#9e7dc8;"></div>
<div style="left:322px;top:183.25px;width:9.5px;height:4px;background:#9e7dc8;"></div>
<div style="left:333px;top:184.25px;width:6px;height:3px;background:#9e7dc8;opacity:0.6;"></div>
<div style="left:384.4px;top:188.25px;width:4.8px;height:2px;background:#9e7dc8;opacity:0.4;"></div>
<div class="bo" style="left:127.3px;top:183.25px;width:23.5px;height:18.7px;"></div>
<div class="bo" style="left:153px;top:183.25px;width:42.2px;height:18.7px;"></div>
<div class="bo" style="left:197px;top:183.25px;width:8.6px;height:18.7px;"></div>
<div class="bo" style="left:208px;top:183.25px;width:28.3px;height:18.7px;"></div>
<div class="bo" style="left:238px;top:183.25px;width:9.3px;height:18.7px;"></div>
<div class="bo" style="left:249px;top:183.25px;width:9.3px;height:18.7px;"></div>
<div class="bo" style="left:259.6px;top:183.25px;width:18.7px;height:18.7px;"></div>
<div class="bo" style="left:280px;top:183.25px;width:9.3px;height:18.7px;"></div>
<div class="bo" style="left:291px;top:183.25px;width:9.4px;height:18.7px;"></div>
<div class="bo" style="left:302px;top:183.25px;width:18.6px;height:18.7px;"></div>
<div class="bo" style="left:322px;top:183.25px;width:9.5px;height:18.7px;"></div>
<div class="bo" style="left:333px;top:183.25px;width:9.6px;height:18.7px;"></div>
<div class="bo" style="left:344.2px;top:183.25px;width:4.4px;height:18.7px;"></div>
<div class="bo" style="left:350.4px;top:183.25px;width:32.3px;height:18.7px;"></div>
<div class="bo" style="left:384.4px;top:183.25px;width:4.8px;height:18.7px;"></div>
<div style="left:348.4px;top:183.85px;width:1.9px;height:17.5px;background:#d4d4d4;"></div>
<div style="left:127.3px;top:204.45px;width:261.9px;height:17.6px;background:#9e7dc8;opacity:0.33;"></div>
<div style="left:127.3px;top:203.95px;width:23.5px;height:18.6px;background:#9e7dc8;"></div>
<div class="bo" style="left:127.3px;top:203.95px;width:23.5px;height:18.6px;"></div>
<div style="left:153px;top:203.95px;width:42.2px;height:18.6px;background:#9e7dc8;"></div>
<div class="bo" style="left:153px;top:203.95px;width:42.2px;height:18.6px;"></div>
<div style="left:197px;top:203.95px;width:8.6px;height:18.6px;background:#9e7dc8;"></div>
<div class="bo" style="left:197px;top:203.95px;width:8.6px;height:18.6px;"></div>
<div style="left:208px;top:203.95px;width:28.3px;height:18.6px;background:#9e7dc8;"></div>
<div class="bo" style="left:208px;top:203.95px;width:28.3px;height:18.6px;"></div>
<div style="left:238px;top:203.95px;width:9.3px;height:18.6px;background:#9e7dc8;"></div>
<div class="bo" style="left:238px;top:203.95px;width:9.3px;height:18.6px;"></div>
<div style="left:249px;top:203.95px;width:9.3px;height:18.6px;background:#9e7dc8;"></div>
<div class="bo" style="left:249px;top:203.95px;width:9.3px;height:18.6px;"></div>
<div style="left:259.6px;top:203.95px;width:18.7px;height:18.6px;background:#9e7dc8;"></div>
<div class="bo" style="left:259.6px;top:203.95px;width:18.7px;height:18.6px;"></div>
<div style="left:280px;top:203.95px;width:9.3px;height:18.6px;background:#9e7dc8;"></div>
<div class="bo" style="left:280px;top:203.95px;width:9.3px;height:18.6px;"></div>
<div style="left:291px;top:203.95px;width:9.4px;height:18.6px;background:#9e7dc8;"></div>
<div class="bo" style="left:291px;top:203.95px;width:9.4px;height:18.6px;"></div>
<div style="left:302px;top:203.95px;width:18.6px;height:18.6px;background:#9e7dc8;"></div>
<div class="bo" style="left:302px;top:203.95px;width:18.6px;height:18.6px;"></div>
<div style="left:322px;top:203.95px;width:9.5px;height:18.6px;background:#9e7dc8;"></div>
<div class="bo" style="left:322px;top:203.95px;width:9.5px;height:18.6px;"></div>
<div style="left:333px;top:203.95px;width:9.6px;height:18.6px;background:#9e7dc8;"></div>
<div class="bo" style="left:333px;top:203.95px;width:9.6px;height:18.6px;"></div>
<div style="left:344.2px;top:203.95px;width:4.4px;height:18.6px;background:#9e7dc8;"></div>
<div class="bo" style="left:344.2px;top:203.95px;width:4.4px;height:18.6px;"></div>
<div style="left:350.4px;top:203.95px;width:32.3px;height:18.6px;background:#9e7dc8;"></div>
<div class="bo" style="left:350.4px;top:203.95px;width:32.3px;height:18.6px;"></div>
<div style="left:384.4px;top:203.95px;width:4.8px;height:18.6px;background:#9e7dc8;"></div>
<div class="bo" style="left:384.4px;top:203.95px;width:4.8px;height:18.6px;"></div>
<div style="left:128.3px;top:218.35px;width:7.5px;height:3px;background:#fff;opacity:0.25;"></div>
<div class="al" style="left:114.4px;top:203.8px;">SAS</div>
<div class="cv" style="left:395.6px;top:194.1px;">31.4</div>
<div class="cv" style="left:395.6px;top:214.75px;">99.5</div>
<div class="dot" style="left:101.3px;top:224px;width:317px;"></div>
<div style="left:127.3px;top:225.9px;width:23.5px;height:18.7px;background:#fff;"></div>
<div style="left:153px;top:225.9px;width:42.2px;height:18.7px;background:#fff;"></div>
<div style="left:197px;top:225.9px;width:8.6px;height:18.7px;background:#fff;"></div>
<div style="left:208px;top:225.9px;width:28.3px;height:18.7px;background:#fff;"></div>
<div style="left:238px;top:225.9px;width:9.3px;height:18.7px;background:#fff;"></div>
<div style="left:249px;top:225.9px;width:9.3px;height:18.7px;background:#fff;"></div>
<div style="left:259.6px;top:225.9px;width:18.7px;height:18.7px;background:#fff;"></div>
<div style="left:280px;top:225.9px;width:9.3px;height:18.7px;background:#fff;"></div>
<div style="left:291px;top:225.9px;width:9.4px;height:18.7px;background:#fff;"></div>
<div style="left:302px;top:225.9px;width:18.6px;height:18.7px;background:#fff;"></div>
<div style="left:322px;top:225.9px;width:9.5px;height:18.7px;background:#fff;"></div>
<div style="left:333px;top:225.9px;width:9.6px;height:18.7px;background:#fff;"></div>
<div style="left:344.2px;top:225.9px;width:4.4px;height:18.7px;background:#fff;"></div>
<div style="left:350.4px;top:225.9px;width:32.3px;height:18.7px;background:#fff;"></div>
<div style="left:384.4px;top:225.9px;width:4.8px;height:18.7px;background:#fff;"></div>
<div style="left:127.3px;top:225.9px;width:23.5px;height:18px;background:#3da86c;"></div>
<div style="left:130px;top:235.9px;width:3px;height:3px;background:#fff;opacity:0.6;"></div>
<div style="left:133px;top:238.9px;width:4px;height:5px;background:#fff;"></div>
<div style="left:137px;top:234.9px;width:3px;height:3px;background:#fff;"></div>
<div style="left:147px;top:238.9px;width:3.8px;height:5px;background:#fff;"></div>
<div style="left:153px;top:225.9px;width:23.3px;height:17px;background:#3da86c;"></div>
<div style="left:157px;top:231.9px;width:6px;height:1.5px;background:#fff;opacity:0.9;"></div>
<div style="left:163px;top:231.9px;width:9px;height:1.5px;background:#fff;opacity:0.5;"></div>
<div style="left:161.7px;top:235.2px;width:10.3px;height:4px;background:#fff;opacity:0.85;"></div>
<div style="left:181.2px;top:225.9px;width:14px;height:6.8px;background:#3da86c;"></div>
<div style="left:181.2px;top:239.2px;width:4.8px;height:3.7px;background:#3da86c;"></div>
<div style="left:197px;top:225.9px;width:8.6px;height:8px;background:#3da86c;"></div>
<div style="left:200px;top:233.9px;width:5.6px;height:6px;background:#3da86c;"></div>
<div style="left:208px;top:225.9px;width:28.3px;height:9px;background:#3da86c;"></div>
<div style="left:208px;top:234.9px;width:4px;height:7px;background:#3da86c;"></div>
<div style="left:217px;top:234.9px;width:5px;height:4px;background:#3da86c;"></div>
<div style="left:226px;top:234.9px;width:5px;height:4px;background:#3da86c;"></div>
<div style="left:235px;top:234.9px;width:1.3px;height:4px;background:#3da86c;"></div>
<div style="left:238px;top:225.9px;width:9.3px;height:16px;background:#3da86c;"></div>
<div style="left:240px;top:233.9px;width:5px;height:3px;background:#fff;"></div>
<div style="left:249px;top:225.9px;width:9.3px;height:16px;background:#3da86c;"></div>
<div style="left:250px;top:233.9px;width:5px;height:4px;background:#fff;opacity:0.6;"></div>
<div style="left:259.6px;top:225.9px;width:8.9px;height:7px;background:#3da86c;"></div>
<div style="left:264px;top:232.9px;width:4.5px;height:5.8px;background:#3da86c;"></div>
<div style="left:259.6px;top:232.9px;width:4.4px;height:4px;background:#3da86c;opacity:0.15;"></div>
<div style="left:280px;top:225.9px;width:9.3px;height:4.6px;background:#3da86c;"></div>
<div style="left:291px;top:225.9px;width:9.4px;height:2.8px;background:#3da86c;"></div>
<div style="left:291px;top:228.7px;width:4px;height:8.2px;background:#3da86c;"></div>
<div style="left:295px;top:231.4px;width:5.4px;height:1.5px;background:#3da86c;"></div>
<div style="left:302px;top:225.9px;width:18.6px;height:8px;background:#3da86c;"></div>
<div style="left:306.5px;top:233.9px;width:14.1px;height:4.8px;background:#3da86c;"></div>
<div style="left:302px;top:233.9px;width:4.5px;height:4.8px;background:#3da86c;opacity:0.3;"></div>
<div style="left:322px;top:225.9px;width:9.5px;height:7.8px;background:#3da86c;"></div>
<div style="left:322px;top:233.7px;width:5px;height:5.2px;background:#3da86c;"></div>
<div style="left:333px;top:225.9px;width:9.6px;height:1.3px;background:#3da86c;"></div>
<div style="left:333px;top:227.2px;width:9.6px;height:4px;background:#3da86c;opacity:0.2;"></div>
<div style="left:333px;top:231.2px;width:9.6px;height:2.2px;background:#3da86c;"></div>
<div style="left:333px;top:233.4px;width:4px;height:5.5px;background:#3da86c;"></div>
<div class="bo" style="left:127.3px;top:225.9px;width:23.5px;height:18.7px;"></div>
<div class="bo" style="left:153px;top:225.9px;width:42.2px;height:18.7px;"></div>
<div class="bo" style="left:197px;top:225.9px;width:8.6px;height:18.7px;"></div>
<div class="bo" style="left:208px;top:225.9px;width:28.3px;height:18.7px;"></div>
<div class="bo" style="left:238px;top:225.9px;width:9.3px;height:18.7px;"></div>
<div class="bo" style="left:249px;top:225.9px;width:9.3px;height:18.7px;"></div>
<div class="bo" style="left:259.6px;top:225.9px;width:18.7px;height:18.7px;"></div>
<div class="bo" style="left:280px;top:225.9px;width:9.3px;height:18.7px;"></div>
<div class="bo" style="left:291px;top:225.9px;width:9.4px;height:18.7px;"></div>
<div class="bo" style="left:302px;top:225.9px;width:18.6px;height:18.7px;"></div>
<div class="bo" style="left:322px;top:225.9px;width:9.5px;height:18.7px;"></div>
<div class="bo" style="left:333px;top:225.9px;width:9.6px;height:18.7px;"></div>
<div class="bo" style="left:344.2px;top:225.9px;width:4.4px;height:18.7px;"></div>
<div class="bo" style="left:350.4px;top:225.9px;width:32.3px;height:18.7px;"></div>
<div class="bo" style="left:384.4px;top:225.9px;width:4.8px;height:18.7px;"></div>
<div style="left:348.4px;top:226.5px;width:1.9px;height:17.5px;background:#d4d4d4;"></div>
<div style="left:127.3px;top:247.1px;width:261.9px;height:17.6px;background:#3da86c;opacity:0.33;"></div>
<div style="left:127.3px;top:246.6px;width:23.5px;height:18.6px;background:#3da86c;"></div>
<div class="bo" style="left:127.3px;top:246.6px;width:23.5px;height:18.6px;"></div>
<div style="left:153px;top:246.6px;width:42.2px;height:18.6px;background:#3da86c;"></div>
<div class="bo" style="left:153px;top:246.6px;width:42.2px;height:18.6px;"></div>
<div style="left:197px;top:246.6px;width:8.6px;height:18.6px;background:#3da86c;"></div>
<div class="bo" style="left:197px;top:246.6px;width:8.6px;height:18.6px;"></div>
<div style="left:208px;top:246.6px;width:28.3px;height:18.6px;background:#3da86c;"></div>
<div class="bo" style="left:208px;top:246.6px;width:28.3px;height:18.6px;"></div>
<div style="left:238px;top:246.6px;width:9.3px;height:18.6px;background:#3da86c;"></div>
<div class="bo" style="left:238px;top:246.6px;width:9.3px;height:18.6px;"></div>
<div style="left:249px;top:246.6px;width:9.3px;height:18.6px;background:#3da86c;"></div>
<div class="bo" style="left:249px;top:246.6px;width:9.3px;height:18.6px;"></div>
<div style="left:259.6px;top:246.6px;width:18.7px;height:18.6px;background:#3da86c;"></div>
<div class="bo" style="left:259.6px;top:246.6px;width:18.7px;height:18.6px;"></div>
<div style="left:280px;top:246.6px;width:9.3px;height:18.6px;background:#3da86c;"></div>
<div class="bo" style="left:280px;top:246.6px;width:9.3px;height:18.6px;"></div>
<div style="left:291px;top:246.6px;width:9.4px;height:18.6px;background:#3da86c;"></div>
<div class="bo" style="left:291px;top:246.6px;width:9.4px;height:18.6px;"></div>
<div style="left:302px;top:246.6px;width:18.6px;height:18.6px;background:#3da86c;"></div>
<div class="bo" style="left:302px;top:246.6px;width:18.6px;height:18.6px;"></div>
<div style="left:322px;top:246.6px;width:9.5px;height:18.6px;background:#3da86c;"></div>
<div class="bo" style="left:322px;top:246.6px;width:9.5px;height:18.6px;"></div>
<div style="left:333px;top:246.6px;width:9.6px;height:18.6px;background:#3da86c;"></div>
<div class="bo" style="left:333px;top:246.6px;width:9.6px;height:18.6px;"></div>
<div style="left:344.2px;top:246.6px;width:4.4px;height:18.6px;background:#3da86c;"></div>
<div class="bo" style="left:344.2px;top:246.6px;width:4.4px;height:18.6px;"></div>
<div style="left:350.4px;top:246.6px;width:32.3px;height:18.6px;background:#3da86c;"></div>
<div class="bo" style="left:350.4px;top:246.6px;width:32.3px;height:18.6px;"></div>
<div style="left:384.4px;top:246.6px;width:4.8px;height:18.6px;background:#3da86c;"></div>
<div class="bo" style="left:384.4px;top:246.6px;width:4.8px;height:18.6px;"></div>
<div style="left:128.3px;top:261px;width:7.5px;height:3px;background:#fff;opacity:0.25;"></div>
<div class="al" style="left:114.4px;top:246.45px;">EAS</div>
<div class="cv" style="left:395.6px;top:236.75px;">48.6</div>
<div class="cv" style="left:395.6px;top:257.4px;">99.6</div>
<div class="dot" style="left:101.3px;top:266px;width:317px;"></div>
<div style="left:127.3px;top:268.55px;width:23.5px;height:18.7px;background:#fff;"></div>
<div style="left:153px;top:268.55px;width:42.2px;height:18.7px;background:#fff;"></div>
<div style="left:197px;top:268.55px;width:8.6px;height:18.7px;background:#fff;"></div>
<div style="left:208px;top:268.55px;width:28.3px;height:18.7px;background:#fff;"></div>
<div style="left:238px;top:268.55px;width:9.3px;height:18.7px;background:#fff;"></div>
<div style="left:249px;top:268.55px;width:9.3px;height:18.7px;background:#fff;"></div>
<div style="left:259.6px;top:268.55px;width:18.7px;height:18.7px;background:#fff;"></div>
<div style="left:280px;top:268.55px;width:9.3px;height:18.7px;background:#fff;"></div>
<div style="left:291px;top:268.55px;width:9.4px;height:18.7px;background:#fff;"></div>
<div style="left:302px;top:268.55px;width:18.6px;height:18.7px;background:#fff;"></div>
<div style="left:322px;top:268.55px;width:9.5px;height:18.7px;background:#fff;"></div>
<div style="left:333px;top:268.55px;width:9.6px;height:18.7px;background:#fff;"></div>
<div style="left:344.2px;top:268.55px;width:4.4px;height:18.7px;background:#fff;"></div>
<div style="left:350.4px;top:268.55px;width:32.3px;height:18.7px;background:#fff;"></div>
<div style="left:384.4px;top:268.55px;width:4.8px;height:18.7px;background:#fff;"></div>
<div style="left:127.3px;top:268.55px;width:23.5px;height:9.5px;background:#eabd3a;"></div>
<div style="left:127.3px;top:278.05px;width:2.7px;height:6px;background:#eabd3a;"></div>
<div style="left:130px;top:278.05px;width:7px;height:6px;background:#eabd3a;opacity:0.4;"></div>
<div style="left:137px;top:278.05px;width:6.5px;height:6px;background:#eabd3a;"></div>
<div style="left:153px;top:268.55px;width:23.3px;height:15.5px;background:#eabd3a;"></div>
<div style="left:158px;top:273.85px;width:18.3px;height:1.3px;background:#fff;opacity:0.65;"></div>
<div style="left:160px;top:276.35px;width:16.3px;height:1.6px;background:#fff;opacity:0.4;"></div>
<div style="left:181.2px;top:268.55px;width:14px;height:4.4px;background:#eabd3a;"></div>
<div style="left:181.6px;top:278.35px;width:3.6px;height:4px;background:#eabd3a;"></div>
<div style="left:197px;top:268.55px;width:8.6px;height:11.5px;background:#eabd3a;"></div>
<div style="left:208px;top:268.55px;width:28.3px;height:7.5px;background:#eabd3a;"></div>
<div style="left:208px;top:276.05px;width:4px;height:7px;background:#eabd3a;"></div>
<div style="left:212px;top:276.05px;width:24.3px;height:2.5px;background:#eabd3a;opacity:0.6;"></div>
<div style="left:238px;top:268.55px;width:9.3px;height:14.5px;background:#eabd3a;"></div>
<div style="left:249px;top:268.55px;width:9.3px;height:14.5px;background:#eabd3a;"></div>
<div style="left:259.6px;top:268.55px;width:8.4px;height:7.5px;background:#eabd3a;"></div>
<div style="left:268px;top:268.55px;width:4px;height:10.5px;background:#eabd3a;"></div>
<div style="left:280px;top:268.55px;width:9.3px;height:3.5px;background:#eabd3a;opacity:0.45;"></div>
<div style="left:280px;top:272.05px;width:9.3px;height:0.7px;background:#eabd3a;"></div>
<div style="left:291px;top:268.95px;width:9.4px;height:1.6px;background:#eabd3a;"></div>
<div style="left:291px;top:274.05px;width:9.4px;height:2.8px;background:#eabd3a;"></div>
<div style="left:291px;top:276.85px;width:6px;height:1.7px;background:#eabd3a;opacity:0.5;"></div>
<div style="left:302px;top:268.55px;width:18.6px;height:8.5px;background:#eabd3a;"></div>
<div style="left:302px;top:277.05px;width:18.6px;height:1.3px;background:#eabd3a;opacity:0.6;"></div>
<div style="left:322px;top:268.55px;width:9.5px;height:5.5px;background:#eabd3a;"></div>
<div style="left:322px;top:274.05px;width:4.5px;height:5px;background:#eabd3a;opacity:0.8;"></div>
<div style="left:333px;top:268.55px;width:9.6px;height:2px;background:#eabd3a;"></div>
<div style="left:333px;top:273.35px;width:9.6px;height:3.7px;background:#eabd3a;opacity:0.85;"></div>
<div class="bo" style="left:127.3px;top:268.55px;width:23.5px;height:18.7px;"></div>
<div class="bo" style="left:153px;top:268.55px;width:42.2px;height:18.7px;"></div>
<div class="bo" style="left:197px;top:268.55px;width:8.6px;height:18.7px;"></div>
<div class="bo" style="left:208px;top:268.55px;width:28.3px;height:18.7px;"></div>
<div class="bo" style="left:238px;top:268.55px;width:9.3px;height:18.7px;"></div>
<div class="bo" style="left:249px;top:268.55px;width:9.3px;height:18.7px;"></div>
<div class="bo" style="left:259.6px;top:268.55px;width:18.7px;height:18.7px;"></div>
<div class="bo" style="left:280px;top:268.55px;width:9.3px;height:18.7px;"></div>
<div class="bo" style="left:291px;top:268.55px;width:9.4px;height:18.7px;"></div>
<div class="bo" style="left:302px;top:268.55px;width:18.6px;height:18.7px;"></div>
<div class="bo" style="left:322px;top:268.55px;width:9.5px;height:18.7px;"></div>
<div class="bo" style="left:333px;top:268.55px;width:9.6px;height:18.7px;"></div>
<div class="bo" style="left:344.2px;top:268.55px;width:4.4px;height:18.7px;"></div>
<div class="bo" style="left:350.4px;top:268.55px;width:32.3px;height:18.7px;"></div>
<div class="bo" style="left:384.4px;top:268.55px;width:4.8px;height:18.7px;"></div>
<div style="left:348.4px;top:269.15px;width:1.9px;height:17.5px;background:#d4d4d4;"></div>
<div style="left:127.3px;top:289.75px;width:261.9px;height:17.6px;background:#eabd3a;opacity:0.33;"></div>
<div style="left:127.3px;top:289.25px;width:23.5px;height:18.6px;background:#eabd3a;"></div>
<div class="bo" style="left:127.3px;top:289.25px;width:23.5px;height:18.6px;"></div>
<div style="left:153px;top:289.25px;width:42.2px;height:18.6px;background:#eabd3a;"></div>
<div class="bo" style="left:153px;top:289.25px;width:42.2px;height:18.6px;"></div>
<div style="left:197px;top:289.25px;width:8.6px;height:18.6px;background:#eabd3a;"></div>
<div class="bo" style="left:197px;top:289.25px;width:8.6px;height:18.6px;"></div>
<div style="left:208px;top:289.25px;width:28.3px;height:18.6px;background:#eabd3a;"></div>
<div class="bo" style="left:208px;top:289.25px;width:28.3px;height:18.6px;"></div>
<div style="left:238px;top:289.25px;width:9.3px;height:18.6px;background:#eabd3a;"></div>
<div class="bo" style="left:238px;top:289.25px;width:9.3px;height:18.6px;"></div>
<div style="left:249px;top:289.25px;width:9.3px;height:18.6px;background:#eabd3a;"></div>
<div class="bo" style="left:249px;top:289.25px;width:9.3px;height:18.6px;"></div>
<div style="left:259.6px;top:289.25px;width:18.7px;height:18.6px;background:#eabd3a;"></div>
<div class="bo" style="left:259.6px;top:289.25px;width:18.7px;height:18.6px;"></div>
<div style="left:280px;top:289.25px;width:9.3px;height:18.6px;background:#eabd3a;"></div>
<div class="bo" style="left:280px;top:289.25px;width:9.3px;height:18.6px;"></div>
<div style="left:291px;top:289.25px;width:9.4px;height:18.6px;background:#eabd3a;"></div>
<div class="bo" style="left:291px;top:289.25px;width:9.4px;height:18.6px;"></div>
<div style="left:302px;top:289.25px;width:18.6px;height:18.6px;background:#eabd3a;"></div>
<div class="bo" style="left:302px;top:289.25px;width:18.6px;height:18.6px;"></div>
<div style="left:322px;top:289.25px;width:9.5px;height:18.6px;background:#eabd3a;"></div>
<div class="bo" style="left:322px;top:289.25px;width:9.5px;height:18.6px;"></div>
<div style="left:333px;top:289.25px;width:9.6px;height:18.6px;background:#eabd3a;"></div>
<div class="bo" style="left:333px;top:289.25px;width:9.6px;height:18.6px;"></div>
<div style="left:344.2px;top:289.25px;width:4.4px;height:18.6px;background:#eabd3a;"></div>
<div class="bo" style="left:344.2px;top:289.25px;width:4.4px;height:18.6px;"></div>
<div style="left:350.4px;top:289.25px;width:32.3px;height:18.6px;background:#eabd3a;"></div>
<div class="bo" style="left:350.4px;top:289.25px;width:32.3px;height:18.6px;"></div>
<div style="left:384.4px;top:289.25px;width:4.8px;height:18.6px;background:#eabd3a;"></div>
<div class="bo" style="left:384.4px;top:289.25px;width:4.8px;height:18.6px;"></div>
<div style="left:128.3px;top:303.65px;width:7.5px;height:3px;background:#fff;opacity:0.25;"></div>
<div class="al" style="left:114.4px;top:289.1px;">OTH</div>
<div class="cv" style="left:395.6px;top:279.4px;">42.8</div>
<div class="cv" style="left:395.6px;top:300.05px;">99.6</div>
<div class="rv" style="left:93.7px;top:193.6px;font-size:7.6px;color:#1a1a1a;transform:rotate(-90deg) translate(0,-50%) scaleX(0.84);">Ancestry</div>
<div class="rr" style="left:426.8px;top:156.4px;font-size:8.6px;color:#333;">Coverage (%)</div>
<div class="t" style="left:6.6px;top:323.6px;font-size:11.5px;color:#111;font-weight:bold;">B</div>
<div style="left:46.5px;top:343.4px;width:4px;height:65.6px;background:#3aa93a;"></div>
<div style="left:46.5px;top:431px;width:4px;height:52.5px;background:#3aa93a;"></div>
<div style="left:46.5px;top:431px;width:4px;height:8.6px;background:#1c4f9c;"></div>
<div style="left:46.5px;top:439.6px;width:4px;height:3.9px;background:#f7941d;"></div>
<div style="left:46.5px;top:443.5px;width:4px;height:1.5px;background:#c8102e;"></div>
<div style="left:48.1px;top:409px;width:0.8px;height:3px;background:#222;"></div>
<div style="left:48.1px;top:428px;width:0.8px;height:3px;background:#222;"></div>
<div style="left:52.5px;top:348.5px;width:4px;height:60.5px;background:#3aa93a;"></div>
<div style="left:52.5px;top:391.3px;width:4px;height:9.3px;background:#f7941d;"></div>
<div style="left:52.5px;top:400.6px;width:4px;height:8.4px;background:#1c4f9c;"></div>
<div style="left:52.5px;top:431px;width:4px;height:53.2px;background:#3aa93a;"></div>
<div style="left:54.1px;top:409px;width:0.8px;height:3px;background:#222;"></div>
<div style="left:54.1px;top:428px;width:0.8px;height:3px;background:#222;"></div>
<div style="left:58.5px;top:347.3px;width:4px;height:61.7px;background:#3aa93a;"></div>
<div style="left:58.5px;top:431px;width:4px;height:61.7px;background:#3aa93a;"></div>
<div style="left:58.5px;top:431px;width:4px;height:5.5px;background:#1c4f9c;"></div>
<div style="left:60.1px;top:409px;width:0.8px;height:3px;background:#222;"></div>
<div style="left:60.1px;top:428px;width:0.8px;height:3px;background:#222;"></div>
<div style="left:64.5px;top:342.6px;width:4px;height:66.4px;background:#3aa93a;"></div>
<div style="left:64.5px;top:404px;width:4px;height:5px;background:#c8102e;"></div>
<div style="left:64.5px;top:431px;width:4px;height:48.6px;background:#3aa93a;"></div>
<div style="left:64.5px;top:431px;width:4px;height:8.6px;background:#1c4f9c;"></div>
<div style="left:66.1px;top:409px;width:0.8px;height:3px;background:#222;"></div>
<div style="left:66.1px;top:428px;width:0.8px;height:3px;background:#222;"></div>
<div style="left:70.5px;top:347.3px;width:4px;height:61.7px;background:#3aa93a;"></div>
<div style="left:70.5px;top:431px;width:4px;height:10.6px;background:#3aa93a;"></div>
<div style="left:72.1px;top:409px;width:0.8px;height:3px;background:#222;"></div>
<div style="left:72.1px;top:428px;width:0.8px;height:3px;background:#222;"></div>
<div style="left:76.5px;top:341.4px;width:4px;height:67.6px;background:#3aa93a;"></div>
<div style="left:76.5px;top:400.6px;width:4px;height:8.4px;background:#f7941d;"></div>
<div style="left:76.5px;top:431px;width:4px;height:57.8px;background:#3aa93a;"></div>
<div style="left:76.5px;top:431px;width:4px;height:13.2px;background:#1c4f9c;"></div>
<div style="left:76.5px;top:444.2px;width:4px;height:3.6px;background:#c8102e;"></div>
<div style="left:78.1px;top:409px;width:0.8px;height:3px;background:#222;"></div>
<div style="left:78.1px;top:428px;width:0.8px;height:3px;background:#222;"></div>
<div style="left:82.5px;top:346.3px;width:4px;height:62.7px;background:#3aa93a;"></div>
<div style="left:82.5px;top:431px;width:4px;height:63px;background:#3aa93a;"></div>
<div style="left:84.1px;top:409px;width:0.8px;height:3px;background:#222;"></div>
<div style="left:84.1px;top:428px;width:0.8px;height:3px;background:#222;"></div>
<div style="left:88.5px;top:343.4px;width:4px;height:65.6px;background:#3aa93a;"></div>
<div style="left:88.5px;top:431px;width:4px;height:55.5px;background:#3aa93a;"></div>
<div style="left:90.1px;top:409px;width:0.8px;height:3px;background:#222;"></div>
<div style="left:90.1px;top:428px;width:0.8px;height:3px;background:#222;"></div>
<div style="left:94.5px;top:353.5px;width:4px;height:55.5px;background:#3aa93a;"></div>
<div style="left:94.5px;top:431px;width:4px;height:66.6px;background:#3aa93a;"></div>
<div style="left:96.1px;top:409px;width:0.8px;height:3px;background:#222;"></div>
<div style="left:96.1px;top:428px;width:0.8px;height:3px;background:#222;"></div>
<div style="left:100.5px;top:341.4px;width:4px;height:67.6px;background:#3aa93a;"></div>
<div style="left:100.5px;top:397.8px;width:4px;height:1.6px;background:#c8102e;"></div>
<div style="left:100.5px;top:399.4px;width:4px;height:9.6px;background:#f7941d;"></div>
<div style="left:100.5px;top:431px;width:4px;height:42.5px;background:#3aa93a;"></div>
<div style="left:100.5px;top:431px;width:4px;height:11.2px;background:#1c4f9c;"></div>
<div style="left:102.1px;top:409px;width:0.8px;height:3px;background:#222;"></div>
<div style="left:102.1px;top:428px;width:0.8px;height:3px;background:#222;"></div>
<div style="left:106.5px;top:388.8px;width:4px;height:20.2px;background:#3aa93a;"></div>
<div style="left:106.5px;top:431px;width:4px;height:34.8px;background:#3aa93a;"></div>
<div style="left:108.1px;top:409px;width:0.8px;height:3px;background:#222;"></div>
<div style="left:108.1px;top:428px;width:0.8px;height:3px;background:#222;"></div>
<div style="left:112.5px;top:375.7px;width:4px;height:33.3px;background:#3aa93a;"></div>
<div style="left:112.5px;top:431px;width:4px;height:63.5px;background:#3aa93a;"></div>
<div style="left:114.1px;top:409px;width:0.8px;height:3px;background:#222;"></div>
<div style="left:114.1px;top:428px;width:0.8px;height:3px;background:#222;"></div>
<div style="left:118.5px;top:367.8px;width:4px;height:41.2px;background:#3aa93a;"></div>
<div style="left:118.5px;top:431px;width:4px;height:58.9px;background:#3aa93a;"></div>
<div style="left:120.1px;top:409px;width:0.8px;height:3px;background:#222;"></div>
<div style="left:120.1px;top:428px;width:0.8px;height:3px;background:#222;"></div>
<div style="left:124.5px;top:367px;width:4px;height:42px;background:#3aa93a;"></div>
<div style="left:124.5px;top:393px;width:4px;height:7.6px;background:#c8102e;"></div>
<div style="left:124.5px;top:400.6px;width:4px;height:8.4px;background:#1c4f9c;"></div>
<div style="left:124.5px;top:431px;width:4px;height:58.6px;background:#3aa93a;"></div>
<div style="left:126.1px;top:409px;width:0.8px;height:3px;background:#222;"></div>
<div style="left:126.1px;top:428px;width:0.8px;height:3px;background:#222;"></div>
<div style="left:130.5px;top:369px;width:4px;height:40px;background:#3aa93a;"></div>
<div style="left:130.5px;top:404px;width:4px;height:5px;background:#c8102e;"></div>
<div style="left:130.5px;top:431px;width:4px;height:62px;background:#3aa93a;"></div>
<div style="left:130.5px;top:431px;width:4px;height:10.9px;background:#1c4f9c;"></div>
<div style="left:130.5px;top:441.9px;width:4px;height:4.3px;background:#c8102e;"></div>
<div style="left:132.1px;top:409px;width:0.8px;height:3px;background:#222;"></div>
<div style="left:132.1px;top:428px;width:0.8px;height:3px;background:#222;"></div>
<div style="left:136.5px;top:345.6px;width:4px;height:63.4px;background:#3aa93a;"></div>
<div style="left:136.5px;top:431px;width:4px;height:8.9px;background:#3aa93a;"></div>
<div style="left:138.1px;top:409px;width:0.8px;height:3px;background:#222;"></div>
<div style="left:138.1px;top:428px;width:0.8px;height:3px;background:#222;"></div>
<div style="left:142.5px;top:363.3px;width:4px;height:45.7px;background:#3aa93a;"></div>
<div style="left:142.5px;top:431px;width:4px;height:67.5px;background:#3aa93a;"></div>
<div style="left:144.1px;top:409px;width:0.8px;height:3px;background:#222;"></div>
<div style="left:144.1px;top:428px;width:0.8px;height:3px;background:#222;"></div>
<div style="left:148.5px;top:346.3px;width:4px;height:62.7px;background:#3aa93a;"></div>
<div style="left:148.5px;top:431px;width:4px;height:16.8px;background:#3aa93a;"></div>
<div style="left:150.1px;top:409px;width:0.8px;height:3px;background:#222;"></div>
<div style="left:150.1px;top:428px;width:0.8px;height:3px;background:#222;"></div>
<div style="left:154.5px;top:378.4px;width:4px;height:30.6px;background:#3aa93a;"></div>
<div style="left:154.5px;top:431px;width:4px;height:63px;background:#3aa93a;"></div>
<div style="left:156.1px;top:409px;width:0.8px;height:3px;background:#222;"></div>
<div style="left:156.1px;top:428px;width:0.8px;height:3px;background:#222;"></div>
<div style="left:160.5px;top:345.6px;width:4px;height:63.4px;background:#3aa93a;"></div>
<div style="left:162.1px;top:409px;width:0.8px;height:3px;background:#222;"></div>
<div style="left:162.1px;top:428px;width:0.8px;height:3px;background:#222;"></div>
<div style="left:166.5px;top:375.7px;width:4px;height:33.3px;background:#3aa93a;"></div>
<div style="left:166.5px;top:431px;width:4px;height:59.8px;background:#3aa93a;"></div>
<div style="left:168.1px;top:409px;width:0.8px;height:3px;background:#222;"></div>
<div style="left:168.1px;top:428px;width:0.8px;height:3px;background:#222;"></div>
<div style="left:172.5px;top:347.3px;width:4px;height:61.7px;background:#3aa93a;"></div>
<div style="left:172.5px;top:431px;width:4px;height:10.6px;background:#3aa93a;"></div>
<div style="left:174.1px;top:409px;width:0.8px;height:3px;background:#222;"></div>
<div style="left:174.1px;top:428px;width:0.8px;height:3px;background:#222;"></div>
<div style="left:178.5px;top:345.6px;width:4px;height:63.4px;background:#3aa93a;"></div>
<div style="left:178.5px;top:431px;width:4px;height:58.3px;background:#3aa93a;"></div>
<div style="left:178.5px;top:431px;width:4px;height:5.5px;background:#1c4f9c;"></div>
<div style="left:180.1px;top:409px;width:0.8px;height:3px;background:#222;"></div>
<div style="left:180.1px;top:428px;width:0.8px;height:3px;background:#222;"></div>
<div style="left:184.5px;top:345.6px;width:4px;height:63.4px;background:#3aa93a;"></div>
<div style="left:184.5px;top:393.6px;width:4px;height:1px;background:#f7941d;"></div>
<div style="left:184.5px;top:394.6px;width:4px;height:14.4px;background:#1c4f9c;"></div>
<div style="left:184.5px;top:431px;width:4px;height:56.8px;background:#3aa93a;"></div>
<div style="left:184.5px;top:431px;width:4px;height:20.9px;background:#1c4f9c;"></div>
<div style="left:186.1px;top:409px;width:0.8px;height:3px;background:#222;"></div>
<div style="left:186.1px;top:428px;width:0.8px;height:3px;background:#222;"></div>
<div style="left:190.5px;top:343.8px;width:4px;height:65.2px;background:#3aa93a;"></div>
<div style="left:190.5px;top:431px;width:4px;height:54.3px;background:#3aa93a;"></div>
<div style="left:190.5px;top:431px;width:4px;height:5px;background:#1c4f9c;"></div>
<div style="left:190.5px;top:436px;width:4px;height:5.9px;background:#c8102e;"></div>
<div style="left:192.1px;top:409px;width:0.8px;height:3px;background:#222;"></div>
<div style="left:192.1px;top:428px;width:0.8px;height:3px;background:#222;"></div>
<div style="left:196.5px;top:344.3px;width:4px;height:64.7px;background:#3aa93a;"></div>
<div style="left:196.5px;top:389.7px;width:4px;height:19.3px;background:#1c4f9c;"></div>
<div style="left:196.5px;top:431px;width:4px;height:56.8px;background:#3aa93a;"></div>
<div style="left:196.5px;top:431px;width:4px;height:9px;background:#1c4f9c;"></div>
<div style="left:196.5px;top:440px;width:4px;height:1.5px;background:#f7941d;"></div>
<div style="left:198.1px;top:409px;width:0.8px;height:3px;background:#222;"></div>
<div style="left:198.1px;top:428px;width:0.8px;height:3px;background:#222;"></div>
<div style="left:202.5px;top:388.8px;width:4px;height:20.2px;background:#3aa93a;"></div>
<div style="left:202.5px;top:431px;width:4px;height:59.4px;background:#3aa93a;"></div>
<div style="left:204.1px;top:409px;width:0.8px;height:3px;background:#222;"></div>
<div style="left:204.1px;top:428px;width:0.8px;height:3px;background:#222;"></div>
<div style="left:208.5px;top:347.3px;width:4px;height:61.7px;background:#3aa93a;"></div>
<div style="left:210.1px;top:409px;width:0.8px;height:3px;background:#222;"></div>
<div style="left:210.1px;top:428px;width:0.8px;height:3px;background:#222;"></div>
<div style="left:214.5px;top:404px;width:4px;height:5px;background:#3aa93a;"></div>
<div style="left:214.5px;top:431px;width:4px;height:46.3px;background:#3aa93a;"></div>
<div style="left:216.1px;top:409px;width:0.8px;height:3px;background:#222;"></div>
<div style="left:216.1px;top:428px;width:0.8px;height:3px;background:#222;"></div>
<div style="left:220.5px;top:380.8px;width:4px;height:28.2px;background:#3aa93a;"></div>
<div style="left:222.1px;top:409px;width:0.8px;height:3px;background:#222;"></div>
<div style="left:222.1px;top:428px;width:0.8px;height:3px;background:#222;"></div>
<div style="left:226.5px;top:354.4px;width:4px;height:54.6px;background:#3aa93a;"></div>
<div style="left:226.5px;top:431px;width:4px;height:5px;background:#3aa93a;"></div>
<div style="left:228.1px;top:409px;width:0.8px;height:3px;background:#222;"></div>
<div style="left:228.1px;top:428px;width:0.8px;height:3px;background:#222;"></div>
<div style="left:232.5px;top:377.6px;width:4px;height:31.4px;background:#3aa93a;"></div>
<div style="left:232.5px;top:431px;width:4px;height:51.4px;background:#3aa93a;"></div>
<div style="left:234.1px;top:409px;width:0.8px;height:3px;background:#222;"></div>
<div style="left:234.1px;top:428px;width:0.8px;height:3px;background:#222;"></div>
<div style="left:238.5px;top:351.5px;width:4px;height:57.5px;background:#3aa93a;"></div>
<div style="left:240.1px;top:409px;width:0.8px;height:3px;background:#222;"></div>
<div style="left:240.1px;top:428px;width:0.8px;height:3px;background:#222;"></div>
<div style="left:244.5px;top:398.9px;width:4px;height:10.1px;background:#3aa93a;"></div>
<div style="left:244.5px;top:431px;width:4px;height:54.3px;background:#3aa93a;"></div>
<div style="left:246.1px;top:409px;width:0.8px;height:3px;background:#222;"></div>
<div style="left:246.1px;top:428px;width:0.8px;height:3px;background:#222;"></div>
<div style="left:250.5px;top:352.7px;width:4px;height:56.3px;background:#3aa93a;"></div>
<div style="left:250.5px;top:400.6px;width:4px;height:8.4px;background:#1c4f9c;"></div>
<div style="left:250.5px;top:431px;width:4px;height:53.2px;background:#3aa93a;"></div>
<div style="left:250.5px;top:431px;width:4px;height:17px;background:#c8102e;"></div>
<div style="left:252.1px;top:409px;width:0.8px;height:3px;background:#222;"></div>
<div style="left:252.1px;top:428px;width:0.8px;height:3px;background:#222;"></div>
<div style="left:256.5px;top:349.3px;width:4px;height:59.7px;background:#3aa93a;"></div>
<div style="left:256.5px;top:396.5px;width:4px;height:12.5px;background:#1c4f9c;"></div>
<div style="left:256.5px;top:431px;width:4px;height:41.4px;background:#3aa93a;"></div>
<div style="left:256.5px;top:431px;width:4px;height:17px;background:#1c4f9c;"></div>
<div style="left:258.1px;top:409px;width:0.8px;height:3px;background:#222;"></div>
<div style="left:258.1px;top:428px;width:0.8px;height:3px;background:#222;"></div>
<div style="left:262.5px;top:347.6px;width:4px;height:61.4px;background:#3aa93a;"></div>
<div style="left:264.1px;top:409px;width:0.8px;height:3px;background:#222;"></div>
<div style="left:264.1px;top:428px;width:0.8px;height:3px;background:#222;"></div>
<div style="left:268.5px;top:347.6px;width:4px;height:61.4px;background:#3aa93a;"></div>
<div style="left:268.5px;top:431px;width:4px;height:8.6px;background:#3aa93a;"></div>
<div style="left:270.1px;top:409px;width:0.8px;height:3px;background:#222;"></div>
<div style="left:270.1px;top:428px;width:0.8px;height:3px;background:#222;"></div>
<div style="left:274.5px;top:347.6px;width:4px;height:61.4px;background:#3aa93a;"></div>
<div style="left:274.5px;top:403.4px;width:4px;height:5.6px;background:#c8102e;"></div>
<div style="left:276.1px;top:409px;width:0.8px;height:3px;background:#222;"></div>
<div style="left:276.1px;top:428px;width:0.8px;height:3px;background:#222;"></div>
<div style="left:280.5px;top:371.2px;width:4px;height:37.8px;background:#3aa93a;"></div>
<div style="left:280.5px;top:431px;width:4px;height:59.4px;background:#3aa93a;"></div>
<div style="left:280.5px;top:431px;width:4px;height:14px;background:#c8102e;"></div>
<div style="left:282.1px;top:409px;width:0.8px;height:3px;background:#222;"></div>
<div style="left:282.1px;top:428px;width:0.8px;height:3px;background:#222;"></div>
<div style="left:286.5px;top:351.5px;width:4px;height:57.5px;background:#3aa93a;"></div>
<div style="left:288.1px;top:409px;width:0.8px;height:3px;background:#222;"></div>
<div style="left:288.1px;top:428px;width:0.8px;height:3px;background:#222;"></div>
<div style="left:292.5px;top:388.8px;width:4px;height:20.2px;background:#3aa93a;"></div>
<div style="left:292.5px;top:403.4px;width:4px;height:5.6px;background:#1c4f9c;"></div>
<div style="left:292.5px;top:431px;width:4px;height:54.3px;background:#3aa93a;"></div>
<div style="left:294.1px;top:409px;width:0.8px;height:3px;background:#222;"></div>
<div style="left:294.1px;top:428px;width:0.8px;height:3px;background:#222;"></div>
<div style="left:298.5px;top:404px;width:4px;height:5px;background:#3aa93a;"></div>
<div style="left:300.1px;top:409px;width:0.8px;height:3px;background:#222;"></div>
<div style="left:300.1px;top:428px;width:0.8px;height:3px;background:#222;"></div>
<div style="left:304.5px;top:356px;width:4px;height:53px;background:#3aa93a;"></div>
<div style="left:306.1px;top:409px;width:0.8px;height:3px;background:#222;"></div>
<div style="left:306.1px;top:428px;width:0.8px;height:3px;background:#222;"></div>
<div style="left:39px;top:338.4px;width:1px;height:71.4px;background:#222;"></div>
<div style="left:39px;top:408.6px;width:270.8px;height:1px;background:#222;"></div>
<div style="left:39px;top:430.6px;width:270.8px;height:1px;background:#222;"></div>
<div style="left:39px;top:431px;width:1px;height:69.5px;background:#222;"></div>
<div class="yl" style="top:339.5px;">6000</div>
<div style="left:36.2px;top:339.1px;width:3px;height:0.8px;background:#222;"></div>
<div class="yl" style="top:345.2px;">3000</div>
<div style="left:36.2px;top:344.8px;width:3px;height:0.8px;background:#222;"></div>
<div class="yl" style="top:354.6px;">1000</div>
<div style="left:36.2px;top:354.2px;width:3px;height:0.8px;background:#222;"></div>
<div class="yl" style="top:373.2px;">100</div>
<div style="left:36.2px;top:372.8px;width:3px;height:0.8px;background:#222;"></div>
<div class="yl" style="top:378.2px;">50</div>
<div style="left:36.2px;top:377.8px;width:3px;height:0.8px;background:#222;"></div>
<div class="yl" style="top:390.9px;">10</div>
<div style="left:36.2px;top:390.5px;width:3px;height:0.8px;background:#222;"></div>
<div class="yl" style="top:409.2px;">1</div>
<div style="left:36.2px;top:408.8px;width:3px;height:0.8px;background:#222;"></div>
<div class="yl" style="top:431.2px;">1</div>
<div style="left:36.2px;top:430.8px;width:3px;height:0.8px;background:#222;"></div>
<div class="yl" style="top:449.3px;">10</div>
<div style="left:36.2px;top:448.9px;width:3px;height:0.8px;background:#222;"></div>
<div class="yl" style="top:461px;">50</div>
<div style="left:36.2px;top:460.6px;width:3px;height:0.8px;background:#222;"></div>
<div class="yl" style="top:466.7px;">100</div>
<div style="left:36.2px;top:466.3px;width:3px;height:0.8px;background:#222;"></div>
<div class="yl" style="top:485.7px;">1000</div>
<div style="left:36.2px;top:485.3px;width:3px;height:0.8px;background:#222;"></div>
<div class="yl" style="top:494.7px;">3000</div>
<div style="left:36.2px;top:494.3px;width:3px;height:0.8px;background:#222;"></div>
<div class="yl" style="top:500px;">6000</div>
<div style="left:36.2px;top:499.6px;width:3px;height:0.8px;background:#222;"></div>
<div style="left:37.4px;top:403.57px;width:1.8px;height:0.6px;background:#444;"></div>
<div style="left:37.4px;top:400.45px;width:1.8px;height:0.6px;background:#444;"></div>
<div style="left:37.4px;top:398.24px;width:1.8px;height:0.6px;background:#444;"></div>
<div style="left:37.4px;top:396.53px;width:1.8px;height:0.6px;background:#444;"></div>
<div style="left:37.4px;top:395.13px;width:1.8px;height:0.6px;background:#444;"></div>
<div style="left:37.4px;top:393.94px;width:1.8px;height:0.6px;background:#444;"></div>
<div style="left:37.4px;top:392.92px;width:1.8px;height:0.6px;background:#444;"></div>
<div style="left:37.4px;top:392.01px;width:1.8px;height:0.6px;background:#444;"></div>
<div style="left:37.4px;top:385.87px;width:1.8px;height:0.6px;background:#444;"></div>
<div style="left:37.4px;top:382.75px;width:1.8px;height:0.6px;background:#444;"></div>
<div style="left:37.4px;top:380.54px;width:1.8px;height:0.6px;background:#444;"></div>
<div style="left:37.4px;top:378.83px;width:1.8px;height:0.6px;background:#444;"></div>
<div style="left:37.4px;top:377.43px;width:1.8px;height:0.6px;background:#444;"></div>
<div style="left:37.4px;top:376.24px;width:1.8px;height:0.6px;background:#444;"></div>
<div style="left:37.4px;top:375.22px;width:1.8px;height:0.6px;background:#444;"></div>
<div style="left:37.4px;top:374.31px;width:1.8px;height:0.6px;background:#444;"></div>
<div style="left:37.4px;top:368.17px;width:1.8px;height:0.6px;background:#444;"></div>
<div style="left:37.4px;top:365.05px;width:1.8px;height:0.6px;background:#444;"></div>
<div style="left:37.4px;top:362.84px;width:1.8px;height:0.6px;background:#444;"></div>
<div style="left:37.4px;top:361.13px;width:1.8px;height:0.6px;background:#444;"></div>
<div style="left:37.4px;top:359.73px;width:1.8px;height:0.6px;background:#444;"></div>
<div style="left:37.4px;top:358.54px;width:1.8px;height:0.6px;background:#444;"></div>
<div style="left:37.4px;top:357.52px;width:1.8px;height:0.6px;background:#444;"></div>
<div style="left:37.4px;top:356.61px;width:1.8px;height:0.6px;background:#444;"></div>
<div style="left:37.4px;top:350.47px;width:1.8px;height:0.6px;background:#444;"></div>
<div style="left:37.4px;top:347.35px;width:1.8px;height:0.6px;background:#444;"></div>
<div style="left:37.4px;top:345.14px;width:1.8px;height:0.6px;background:#444;"></div>
<div style="left:37.4px;top:343.43px;width:1.8px;height:0.6px;background:#444;"></div>
<div style="left:37.4px;top:342.03px;width:1.8px;height:0.6px;background:#444;"></div>
<div style="left:37.4px;top:436.32px;width:1.8px;height:0.6px;background:#444;"></div>
<div style="left:37.4px;top:439.49px;width:1.8px;height:0.6px;background:#444;"></div>
<div style="left:37.4px;top:441.74px;width:1.8px;height:0.6px;background:#444;"></div>
<div style="left:37.4px;top:443.48px;width:1.8px;height:0.6px;background:#444;"></div>
<div style="left:37.4px;top:444.91px;width:1.8px;height:0.6px;background:#444;"></div>
<div style="left:37.4px;top:446.11px;width:1.8px;height:0.6px;background:#444;"></div>
<div style="left:37.4px;top:447.16px;width:1.8px;height:0.6px;background:#444;"></div>
<div style="left:37.4px;top:448.08px;width:1.8px;height:0.6px;background:#444;"></div>
<div style="left:37.4px;top:454.32px;width:1.8px;height:0.6px;background:#444;"></div>
<div style="left:37.4px;top:457.49px;width:1.8px;height:0.6px;background:#444;"></div>
<div style="left:37.4px;top:459.74px;width:1.8px;height:0.6px;background:#444;"></div>
<div style="left:37.4px;top:461.48px;width:1.8px;height:0.6px;background:#444;"></div>
<div style="left:37.4px;top:462.91px;width:1.8px;height:0.6px;background:#444;"></div>
<div style="left:37.4px;top:464.11px;width:1.8px;height:0.6px;background:#444;"></div>
<div style="left:37.4px;top:465.16px;width:1.8px;height:0.6px;background:#444;"></div>
<div style="left:37.4px;top:466.08px;width:1.8px;height:0.6px;background:#444;"></div>
<div style="left:37.4px;top:472.32px;width:1.8px;height:0.6px;background:#444;"></div>
<div style="left:37.4px;top:475.49px;width:1.8px;height:0.6px;background:#444;"></div>
<div style="left:37.4px;top:477.74px;width:1.8px;height:0.6px;background:#444;"></div>
<div style="left:37.4px;top:479.48px;width:1.8px;height:0.6px;background:#444;"></div>
<div style="left:37.4px;top:480.91px;width:1.8px;height:0.6px;background:#444;"></div>
<div style="left:37.4px;top:482.11px;width:1.8px;height:0.6px;background:#444;"></div>
<div style="left:37.4px;top:483.16px;width:1.8px;height:0.6px;background:#444;"></div>
<div style="left:37.4px;top:484.08px;width:1.8px;height:0.6px;background:#444;"></div>
<div style="left:37.4px;top:490.32px;width:1.8px;height:0.6px;background:#444;"></div>
<div style="left:37.4px;top:493.49px;width:1.8px;height:0.6px;background:#444;"></div>
<div style="left:37.4px;top:495.74px;width:1.8px;height:0.6px;background:#444;"></div>
<div style="left:37.4px;top:497.48px;width:1.8px;height:0.6px;background:#444;"></div>
<div style="left:37.4px;top:498.91px;width:1.8px;height:0.6px;background:#444;"></div>
<div class="rv" style="left:11.1px;top:384.6px;font-size:7.4px;color:#333;transform:rotate(-90deg) translate(0,-50%) scaleX(0.87);">Positive</div>
<div class="rv" style="left:11.1px;top:480.0px;font-size:7.4px;color:#333;transform:rotate(-90deg) translate(0,-50%) scaleX(0.89);">Negative</div>
<div class="rs" style="left:48.5px;top:423.6px;font-size:4.4px;color:#333;">M</div>
<div class="rs" style="left:54.5px;top:423.6px;font-size:4.4px;color:#333;">N</div>
<div class="rs" style="left:60.5px;top:423.6px;font-size:4.4px;color:#333;">S</div>
<div class="rs" style="left:66.5px;top:423.6px;font-size:4.4px;color:#333;">s</div>
<div class="rs" style="left:72.5px;top:423.6px;font-size:4.4px;color:#333;">U</div>
<div class="rs" style="left:78.5px;top:423.6px;font-size:4.4px;color:#333;">D</div>
<div class="rs" style="left:84.5px;top:423.6px;font-size:4.4px;color:#333;">C</div>
<div class="rs" style="left:90.5px;top:423.6px;font-size:4.4px;color:#333;">E</div>
<div class="rs" style="left:96.5px;top:423.6px;font-size:4.4px;color:#333;">c</div>
<div class="rs" style="left:102.5px;top:423.6px;font-size:4.4px;color:#333;">e</div>
<div class="rs" style="left:108.5px;top:423.6px;font-size:4.4px;color:#333;">f</div>
<div class="rs" style="left:114.5px;top:423.6px;font-size:4.4px;color:#333;">Cw</div>
<div class="rs" style="left:120.5px;top:423.6px;font-size:4.4px;color:#333;">V</div>
<div class="rs" style="left:126.5px;top:423.6px;font-size:4.4px;color:#333;">VS</div>
<div class="rs" style="left:132.5px;top:423.6px;font-size:4.4px;color:#333;">Lua</div>
<div class="rs" style="left:138.5px;top:423.6px;font-size:4.4px;color:#333;">Lub</div>
<div class="rs" style="left:144.5px;top:423.6px;font-size:4.4px;color:#333;">K</div>
<div class="rs" style="left:150.5px;top:423.6px;font-size:4.4px;color:#333;">k</div>
<div class="rs" style="left:156.5px;top:423.6px;font-size:4.4px;color:#333;">Kpa</div>
<div class="rs" style="left:162.5px;top:423.6px;font-size:4.4px;color:#333;">Kpb</div>
<div class="rs" style="left:168.5px;top:423.6px;font-size:4.4px;color:#333;">Jsa</div>
<div class="rs" style="left:174.5px;top:423.6px;font-size:4.4px;color:#333;">Jsb</div>
<div class="rs" style="left:180.5px;top:423.6px;font-size:4.4px;color:#333;">Fya</div>
<div class="rs" style="left:186.5px;top:423.6px;font-size:4.4px;color:#333;">Fyb</div>
<div class="rs" style="left:192.5px;top:423.6px;font-size:4.4px;color:#333;">Jka</div>
<div class="rs" style="left:198.5px;top:423.6px;font-size:4.4px;color:#333;">Jkb</div>
<div class="rs" style="left:204.5px;top:423.6px;font-size:4.4px;color:#333;">Dia</div>
<div class="rs" style="left:210.5px;top:423.6px;font-size:4.4px;color:#333;">Dib</div>
<div class="rs" style="left:216.5px;top:423.6px;font-size:4.4px;color:#333;">Wra</div>
<div class="rs" style="left:222.5px;top:423.6px;font-size:4.4px;color:#333;">Wrb</div>
<div class="rs" style="left:228.5px;top:423.6px;font-size:4.4px;color:#333;">Yta</div>
<div class="rs" style="left:234.5px;top:423.6px;font-size:4.4px;color:#333;">Ytb</div>
<div class="rs" style="left:240.5px;top:423.6px;font-size:4.4px;color:#333;">Sc1</div>
<div class="rs" style="left:246.5px;top:423.6px;font-size:4.4px;color:#333;">Sc2</div>
<div class="rs" style="left:252.5px;top:423.6px;font-size:4.4px;color:#333;">Doa</div>
<div class="rs" style="left:258.5px;top:423.6px;font-size:4.4px;color:#333;">Dob</div>
<div class="rs" style="left:264.5px;top:423.6px;font-size:4.4px;color:#333;">Gya</div>
<div class="rs" style="left:270.5px;top:423.6px;font-size:4.4px;color:#333;">Hy</div>
<div class="rs" style="left:276.5px;top:423.6px;font-size:4.4px;color:#333;">Coa</div>
<div class="rs" style="left:282.5px;top:423.6px;font-size:4.4px;color:#333;">Cob</div>
<div class="rs" style="left:288.5px;top:423.6px;font-size:4.4px;color:#333;">LWa</div>
<div class="rs" style="left:294.5px;top:423.6px;font-size:4.4px;color:#333;">LWb</div>
<div class="rs" style="left:300.5px;top:423.6px;font-size:4.4px;color:#333;">Cra</div>
<div class="rs" style="left:306.5px;top:423.6px;font-size:4.4px;color:#333;">Vel</div>
<div class="t" style="left:325.2px;top:323.6px;font-size:12px;color:#111;font-weight:bold;">C</div>
<div style="left:356.4px;top:361.3px;width:33.9px;height:14.3px;background:#26818e;"></div>
<div class="hv" style="left:373.2px;top:368.3px;color:#e8e6ef;">10</div>
<div style="left:390px;top:361.3px;width:32.9px;height:14.3px;background:#24aa83;"></div>
<div class="hv" style="left:406.3px;top:368.3px;color:#e8e6ef;">14</div>
<div style="left:422.6px;top:361.3px;width:35.2px;height:14.3px;background:#440154;"></div>
<div class="hv" style="left:440.05px;top:368.3px;color:#e8e6ef;">0</div>
<div style="left:457.5px;top:361.3px;width:31.8px;height:14.3px;background:#440154;"></div>
<div class="hv" style="left:473.25px;top:368.3px;color:#e8e6ef;">0</div>
<div class="rvc" style="left:350.3px;top:368.3px;">MNS</div>
<div style="left:356.4px;top:375.3px;width:33.9px;height:15px;background:#24aa83;"></div>
<div class="hv" style="left:373.2px;top:382.65px;color:#e8e6ef;">14</div>
<div style="left:390px;top:375.3px;width:32.9px;height:15px;background:#228b8d;"></div>
<div class="hv" style="left:406.3px;top:382.65px;color:#e8e6ef;">11</div>
<div style="left:422.6px;top:375.3px;width:35.2px;height:15px;background:#482071;"></div>
<div class="hv" style="left:440.05px;top:382.65px;color:#e8e6ef;">2</div>
<div style="left:457.5px;top:375.3px;width:31.8px;height:15px;background:#2f6c8e;"></div>
<div class="hv" style="left:473.25px;top:382.65px;color:#e8e6ef;">8</div>
<div class="rvc" style="left:350.3px;top:382.65px;">Rh</div>
<div style="left:356.4px;top:390px;width:33.9px;height:13.9px;background:#471164;"></div>
<div class="hv" style="left:373.2px;top:396.8px;color:#e8e6ef;">1</div>
<div style="left:390px;top:390px;width:32.9px;height:13.9px;background:#3f4889;"></div>
<div class="hv" style="left:406.3px;top:396.8px;color:#e8e6ef;">5</div>
<div style="left:422.6px;top:390px;width:35.2px;height:13.9px;background:#443b84;"></div>
<div class="hv" style="left:440.05px;top:396.8px;color:#e8e6ef;">4</div>
<div style="left:457.5px;top:390px;width:31.8px;height:13.9px;background:#440154;"></div>
<div class="hv" style="left:473.25px;top:396.8px;color:#e8e6ef;">0</div>
<div class="rvc" style="left:350.3px;top:396.8px;">LU</div>
<div style="left:356.4px;top:403.6px;width:33.9px;height:14.4px;background:#472e7c;"></div>
<div class="hv" style="left:373.2px;top:410.65px;color:#e8e6ef;">3</div>
<div style="left:390px;top:403.6px;width:32.9px;height:14.4px;background:#440154;"></div>
<div class="hv" style="left:406.3px;top:410.65px;color:#e8e6ef;">0</div>
<div style="left:422.6px;top:403.6px;width:35.2px;height:14.4px;background:#471164;"></div>
<div class="hv" style="left:440.05px;top:410.65px;color:#e8e6ef;">1</div>
<div style="left:457.5px;top:403.6px;width:31.8px;height:14.4px;background:#440154;"></div>
<div class="hv" style="left:473.25px;top:410.65px;color:#e8e6ef;">0</div>
<div class="rvc" style="left:350.3px;top:410.65px;">KEL</div>
<div style="left:356.4px;top:417.7px;width:33.9px;height:15.5px;background:#fde725;"></div>
<div class="hv" style="left:373.2px;top:425.3px;color:#222;">23</div>
<div style="left:390px;top:417.7px;width:32.9px;height:15.5px;background:#440154;"></div>
<div class="hv" style="left:406.3px;top:425.3px;color:#e8e6ef;">0</div>
<div style="left:422.6px;top:417.7px;width:35.2px;height:15.5px;background:#482071;"></div>
<div class="hv" style="left:440.05px;top:425.3px;color:#e8e6ef;">2</div>
<div style="left:457.5px;top:417.7px;width:31.8px;height:15.5px;background:#440154;"></div>
<div class="hv" style="left:473.25px;top:425.3px;color:#e8e6ef;">0</div>
<div class="rvc" style="left:350.3px;top:425.3px;">FY</div>
<div style="left:356.4px;top:432.9px;width:33.9px;height:14.2px;background:#24aa83;"></div>
<div class="hv" style="left:373.2px;top:439.85px;color:#e8e6ef;">14</div>
<div style="left:390px;top:432.9px;width:32.9px;height:14.2px;background:#472e7c;"></div>
<div class="hv" style="left:406.3px;top:439.85px;color:#e8e6ef;">3</div>
<div style="left:422.6px;top:432.9px;width:35.2px;height:14.2px;background:#443b84;"></div>
<div class="hv" style="left:440.05px;top:439.85px;color:#e8e6ef;">4</div>
<div style="left:457.5px;top:432.9px;width:31.8px;height:14.2px;background:#440154;"></div>
<div class="hv" style="left:473.25px;top:439.85px;color:#e8e6ef;">0</div>
<div class="rvc" style="left:350.3px;top:439.85px;">JK</div>
<div style="left:356.4px;top:446.8px;width:33.9px;height:14.9px;background:#42be71;"></div>
<div class="hv" style="left:373.2px;top:454.1px;color:#e8e6ef;">16</div>
<div style="left:390px;top:446.8px;width:32.9px;height:14.9px;background:#26818e;"></div>
<div class="hv" style="left:406.3px;top:454.1px;color:#e8e6ef;">10</div>
<div style="left:422.6px;top:446.8px;width:35.2px;height:14.9px;background:#440154;"></div>
<div class="hv" style="left:440.05px;top:454.1px;color:#e8e6ef;">0</div>
<div style="left:457.5px;top:446.8px;width:31.8px;height:14.9px;background:#440154;"></div>
<div class="hv" style="left:473.25px;top:454.1px;color:#e8e6ef;">0</div>
<div class="rvc" style="left:350.3px;top:454.1px;">DO</div>
<div style="left:356.4px;top:461.4px;width:33.9px;height:14.4px;background:#471164;"></div>
<div class="hv" style="left:373.2px;top:468.45px;color:#e8e6ef;">1</div>
<div style="left:390px;top:461.4px;width:32.9px;height:14.4px;background:#34608d;"></div>
<div class="hv" style="left:406.3px;top:468.45px;color:#e8e6ef;">7</div>
<div style="left:422.6px;top:461.4px;width:35.2px;height:14.4px;background:#440154;"></div>
<div class="hv" style="left:440.05px;top:468.45px;color:#e8e6ef;">0</div>
<div style="left:457.5px;top:461.4px;width:31.8px;height:14.4px;background:#440154;"></div>
<div class="hv" style="left:473.25px;top:468.45px;color:#e8e6ef;">0</div>
<div class="rvc" style="left:350.3px;top:468.45px;">CO</div>
<div style="left:356.4px;top:475.5px;width:33.9px;height:14.7px;background:#482071;"></div>
<div class="hv" style="left:373.2px;top:482.7px;color:#e8e6ef;">2</div>
<div style="left:390px;top:475.5px;width:32.9px;height:14.7px;background:#440154;"></div>
<div class="hv" style="left:406.3px;top:482.7px;color:#e8e6ef;">0</div>
<div style="left:422.6px;top:475.5px;width:35.2px;height:14.7px;background:#440154;"></div>
<div class="hv" style="left:440.05px;top:482.7px;color:#e8e6ef;">0</div>
<div style="left:457.5px;top:475.5px;width:31.8px;height:14.7px;background:#440154;"></div>
<div class="hv" style="left:473.25px;top:482.7px;color:#e8e6ef;">0</div>
<div class="rvc" style="left:350.3px;top:482.7px;">LW</div>
<div style="left:356.4px;top:345.1px;width:33.1px;height:12.1px;background:#3b78b8;"></div>
<div class="mt" style="left:373.2px;top:340.5px;">84</div>
<div style="left:390.5px;top:350px;width:31.6px;height:7.2px;background:#3b78b8;"></div>
<div class="mt" style="left:406.3px;top:345.4px;">50</div>
<div style="left:423.1px;top:355.33px;width:33.9px;height:1.87px;background:#3b78b8;"></div>
<div class="mt" style="left:440.05px;top:350.73px;">13</div>
<div style="left:458px;top:356.05px;width:30.5px;height:1.15px;background:#3b78b8;"></div>
<div class="mt" style="left:473.25px;top:351.45px;">8</div>
<div style="left:356.4px;top:356.6px;width:132.6px;height:1px;background:#2a5e8e;"></div>
<div style="left:491.6px;top:361.8px;width:8.91px;height:13px;background:#3b78b8;"></div>
<div class="mr" style="left:502.71px;top:368.3px;">24</div>
<div style="left:491.6px;top:375.8px;width:13px;height:13.7px;background:#3b78b8;"></div>
<div class="mr" style="left:506.8px;top:382.65px;">35</div>
<div style="left:491.6px;top:390.5px;width:3.71px;height:12.6px;background:#3b78b8;"></div>
<div class="mr" style="left:497.51px;top:396.8px;">10</div>
<div style="left:491.6px;top:404.1px;width:1.49px;height:13.1px;background:#3b78b8;"></div>
<div class="mr" style="left:495.29px;top:410.65px;">4</div>
<div style="left:491.6px;top:418.2px;width:9.29px;height:14.2px;background:#3b78b8;"></div>
<div class="mr" style="left:503.09px;top:425.3px;">25</div>
<div style="left:491.6px;top:433.4px;width:7.8px;height:12.9px;background:#3b78b8;"></div>
<div class="mr" style="left:501.6px;top:439.85px;">21</div>
<div style="left:491.6px;top:447.3px;width:9.66px;height:13.6px;background:#3b78b8;"></div>
<div class="mr" style="left:503.46px;top:454.1px;">26</div>
<div style="left:491.6px;top:461.9px;width:2.97px;height:13.1px;background:#3b78b8;"></div>
<div class="mr" style="left:496.77px;top:468.45px;">8</div>
<div style="left:491.6px;top:476px;width:0.74px;height:13.4px;background:#3b78b8;"></div>
<div class="mr" style="left:494.54px;top:482.7px;">2</div>
<div style="left:491.2px;top:361.3px;width:0.8px;height:128.6px;background:#2a5e8e;"></div>
<div style="left:337px;top:364.2px;width:3px;height:114.6px;background:linear-gradient(to top,#440154 0%,#482475 10%,#414487 20%,#355f8d 30%,#2a788e 40%,#21918c 50%,#22a884 60%,#44bf70 70%,#7ad151 80%,#bddf26 90%,#fde725 100%);"></div>
<div style="left:335.2px;top:477.25px;width:2px;height:0.7px;background:#333;"></div>
<div class="cl" style="top:477.6px;">0</div>
<div style="left:335.2px;top:452.6px;width:2px;height:0.7px;background:#333;"></div>
<div class="cl" style="top:452.95px;">5</div>
<div style="left:335.2px;top:427.95px;width:2px;height:0.7px;background:#333;"></div>
<div class="cl" style="top:428.3px;">10</div>
<div style="left:335.2px;top:403.3px;width:2px;height:0.7px;background:#333;"></div>
<div class="cl" style="top:403.65px;">15</div>
<div style="left:335.2px;top:378.65px;width:2px;height:0.7px;background:#333;"></div>
<div class="cl" style="top:379px;">20</div>
<div class="dl" style="left:374.2px;top:492.2px;">Array Correct</div>
<div class="dl" style="left:407.3px;top:492.2px;">Array Incorrect</div>
<div class="dl" style="left:441.05px;top:492.2px;">Miscellaneous</div>
<div class="dl" style="left:474.25px;top:492.2px;">Algorithmic</div>
<div style="left:0;top:0;width:520px;height:535px;border:1px solid #4a4a4a;"></div>
</div></body></html>
